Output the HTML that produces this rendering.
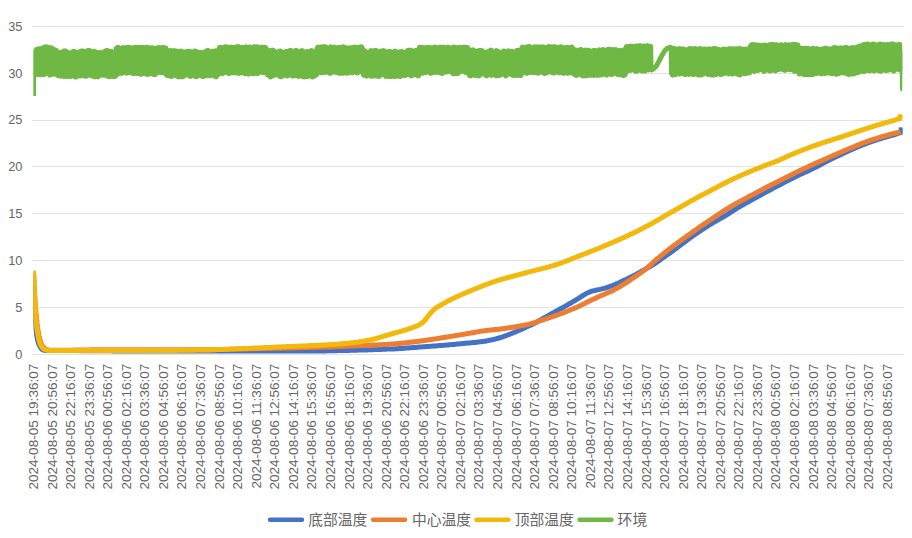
<!DOCTYPE html>
<html><head><meta charset="utf-8"><title>chart</title>
<style>
html,body{margin:0;padding:0;background:#fff;}
body{width:912px;height:538px;overflow:hidden;font-family:"Liberation Sans",sans-serif;}
svg{display:block}
text{font-family:"Liberation Sans",sans-serif;font-size:12px;fill:#666666;}
text.lg{font-family:"Liberation Sans","Noto Sans CJK SC",sans-serif;font-size:14.8px;fill:#666666;}
.s{fill:none;stroke-width:5;stroke-linecap:butt;stroke-linejoin:round}
</style></head><body>
<svg width="912" height="538" viewBox="0 0 912 538">
<rect width="912" height="538" fill="#fff"/>

<g stroke="#E2E2E2" stroke-width="1" shape-rendering="crispEdges">
<line x1="32.3" x2="903.8" y1="354.5" y2="354.5"/>
<line x1="32.3" x2="903.8" y1="307.5" y2="307.5"/>
<line x1="32.3" x2="903.8" y1="260.5" y2="260.5"/>
<line x1="32.3" x2="903.8" y1="213.5" y2="213.5"/>
<line x1="32.3" x2="903.8" y1="166.5" y2="166.5"/>
<line x1="32.3" x2="903.8" y1="120.5" y2="120.5"/>
<line x1="32.3" x2="903.8" y1="73.5" y2="73.5"/>
<line x1="32.3" x2="903.8" y1="26.5" y2="26.5"/>
</g>
<g text-anchor="end" opacity="0.999">
<text transform="translate(22.5 358.8) scale(1.07 1)">0</text>
<text transform="translate(22.5 311.9) scale(1.07 1)">5</text>
<text transform="translate(22.5 265.0) scale(1.07 1)">10</text>
<text transform="translate(22.5 218.1) scale(1.07 1)">15</text>
<text transform="translate(22.5 171.3) scale(1.07 1)">20</text>
<text transform="translate(22.5 124.4) scale(1.07 1)">25</text>
<text transform="translate(22.5 77.5) scale(1.07 1)">30</text>
<text transform="translate(22.5 30.6) scale(1.07 1)">35</text>
</g>
<clipPath id="pc"><rect x="33.3" y="20" width="869.4" height="340"/></clipPath><g clip-path="url(#pc)">
<path class="s" stroke="#4472C4" d="M33.6 286.0 L33.9 291.6 L34.1 296.9 L34.4 301.9 L34.6 306.5 L34.9 310.9 L35.1 315.4 L35.4 319.8 L35.6 323.9 L35.9 327.6 L36.1 330.8 L36.4 333.3 L36.6 335.0 L36.9 336.5 L37.1 337.8 L37.4 339.0 L37.6 340.1 L37.9 341.1 L38.1 342.0 L38.4 342.8 L38.6 343.5 L38.9 344.2 L39.1 344.8 L39.4 345.3 L39.6 345.8 L39.9 346.3 L40.1 346.7 L40.4 347.1 L40.6 347.6 L40.9 348.0 L41.1 348.3 L41.4 348.7 L41.6 349.0 L41.9 349.3 L42.1 349.5 L42.4 349.7 L42.6 349.8 L42.9 350.0 L43.1 350.0 L43.4 350.1 L43.6 350.1 L43.9 350.2 L44.1 350.2 L44.4 350.3 L44.6 350.3 L44.9 350.4 L45.1 350.4 L45.4 350.4 L45.6 350.5 L45.9 350.5 L46.1 350.5 L46.4 350.5 L46.6 350.6 L46.9 350.6 L47.1 350.6 L47.4 350.6 L47.6 350.6 L47.9 350.6 L48.0 350.6 L49.0 350.6 L50.0 350.6 L51.0 350.6 L52.0 350.6 L53.0 350.6 L54.0 350.6 L55.0 350.6 L56.0 350.6 L57.0 350.6 L58.0 350.6 L59.0 350.6 L60.0 350.6 L61.0 350.6 L62.0 350.6 L63.0 350.6 L64.0 350.6 L65.0 350.6 L66.0 350.6 L67.0 350.6 L68.0 350.6 L69.0 350.6 L70.0 350.6 L71.0 350.6 L72.0 350.6 L73.0 350.6 L74.0 350.6 L75.0 350.6 L76.0 350.6 L77.0 350.6 L78.0 350.6 L79.0 350.6 L80.0 350.7 L81.0 350.7 L82.0 350.7 L83.0 350.7 L84.0 350.7 L85.0 350.7 L86.0 350.7 L87.0 350.7 L88.0 350.7 L89.0 350.7 L90.0 350.7 L91.0 350.7 L92.0 350.7 L93.0 350.7 L94.0 350.7 L95.0 350.7 L96.0 350.7 L97.0 350.7 L98.0 350.8 L99.0 350.8 L100.0 350.8 L101.0 350.8 L102.0 350.8 L103.0 350.8 L104.0 350.8 L105.0 350.8 L106.0 350.8 L107.0 350.8 L108.0 350.8 L109.0 350.8 L110.0 350.8 L111.0 350.8 L112.0 350.8 L113.0 350.9 L114.0 350.9 L115.0 350.9 L116.0 350.9 L117.0 350.9 L118.0 350.9 L119.0 350.9 L120.0 350.9 L121.0 350.9 L122.0 350.9 L123.0 350.9 L124.0 350.9 L125.0 350.9 L126.0 350.9 L127.0 350.9 L128.0 350.9 L129.0 350.9 L130.0 350.9 L131.0 351.0 L132.0 351.0 L133.0 351.0 L134.0 351.0 L135.0 351.0 L136.0 351.0 L137.0 351.0 L138.0 351.0 L139.0 351.0 L140.0 351.0 L141.0 351.0 L142.0 351.0 L143.0 351.0 L144.0 351.0 L145.0 351.0 L146.0 351.0 L147.0 351.0 L148.0 351.0 L149.0 351.0 L150.0 351.0 L151.0 351.0 L152.0 351.0 L153.0 351.0 L154.0 351.0 L155.0 351.0 L156.0 351.0 L157.0 351.0 L158.0 351.0 L159.0 351.0 L160.0 351.0 L161.0 351.0 L162.0 351.0 L163.0 351.0 L164.0 351.0 L165.0 351.0 L166.0 351.0 L167.0 351.0 L168.0 351.0 L169.0 351.0 L170.0 351.0 L171.0 351.0 L172.0 351.0 L173.0 351.0 L174.0 351.0 L175.0 351.0 L176.0 351.0 L177.0 351.0 L178.0 351.0 L179.0 351.0 L180.0 351.0 L181.0 351.0 L182.0 351.0 L183.0 351.0 L184.0 351.0 L185.0 351.0 L186.0 351.0 L187.0 351.0 L188.0 351.0 L189.0 351.0 L190.0 351.0 L191.0 351.0 L192.0 351.0 L193.0 351.0 L194.0 351.0 L195.0 351.0 L196.0 351.0 L197.0 351.0 L198.0 351.0 L199.0 351.0 L200.0 351.0 L201.0 351.0 L202.0 351.0 L203.0 351.0 L204.0 351.0 L205.0 351.0 L206.0 351.0 L207.0 351.0 L208.0 351.0 L209.0 351.0 L210.0 351.0 L211.0 351.0 L212.0 351.0 L213.0 351.0 L214.0 351.0 L215.0 351.0 L216.0 351.0 L217.0 351.0 L218.0 351.0 L219.0 351.0 L220.0 351.0 L221.0 351.0 L222.0 351.0 L223.0 351.0 L224.0 351.0 L225.0 351.0 L226.0 351.0 L227.0 351.0 L228.0 351.0 L229.0 351.0 L230.0 351.0 L231.0 351.0 L232.0 351.0 L233.0 351.0 L234.0 351.0 L235.0 351.0 L236.0 351.0 L237.0 351.0 L238.0 351.0 L239.0 351.0 L240.0 351.0 L241.0 351.0 L242.0 351.0 L243.0 351.0 L244.0 351.0 L245.0 351.0 L246.0 351.0 L247.0 351.0 L248.0 351.0 L249.0 351.0 L250.0 351.0 L251.0 351.0 L252.0 351.0 L253.0 351.0 L254.0 351.0 L255.0 351.0 L256.0 351.0 L257.0 351.0 L258.0 351.0 L259.0 351.0 L260.0 351.0 L261.0 351.0 L262.0 351.0 L263.0 351.0 L264.0 351.0 L265.0 351.0 L266.0 351.0 L267.0 351.0 L268.0 351.0 L269.0 351.0 L270.0 351.0 L271.0 351.0 L272.0 351.0 L273.0 351.0 L274.0 351.0 L275.0 351.0 L276.0 351.0 L277.0 351.0 L278.0 351.0 L279.0 351.0 L280.0 351.0 L281.0 351.0 L282.0 351.0 L283.0 351.0 L284.0 351.0 L285.0 351.0 L286.0 351.0 L287.0 351.0 L288.0 351.0 L289.0 351.0 L290.0 351.0 L291.0 351.0 L292.0 351.0 L293.0 351.0 L294.0 351.0 L295.0 351.0 L296.0 351.0 L297.0 351.0 L298.0 351.0 L299.0 351.0 L300.0 351.0 L301.0 350.9 L302.0 350.9 L303.0 350.9 L304.0 350.9 L305.0 350.9 L306.0 350.9 L307.0 350.9 L308.0 350.9 L309.0 350.9 L310.0 350.9 L311.0 350.9 L312.0 350.9 L313.0 350.9 L314.0 350.9 L315.0 350.9 L316.0 350.9 L317.0 350.9 L318.0 350.9 L319.0 350.9 L320.0 350.9 L321.0 350.9 L322.0 350.9 L323.0 350.9 L324.0 350.9 L325.0 350.9 L326.0 350.9 L327.0 350.8 L328.0 350.8 L329.0 350.8 L330.0 350.8 L331.0 350.8 L332.0 350.8 L333.0 350.7 L334.0 350.7 L335.0 350.7 L336.0 350.7 L337.0 350.7 L338.0 350.6 L339.0 350.6 L340.0 350.6 L341.0 350.6 L342.0 350.5 L343.0 350.5 L344.0 350.5 L345.0 350.5 L346.0 350.4 L347.0 350.4 L348.0 350.4 L349.0 350.4 L350.0 350.3 L351.0 350.3 L352.0 350.3 L353.0 350.3 L354.0 350.2 L355.0 350.2 L356.0 350.2 L357.0 350.2 L358.0 350.1 L359.0 350.1 L360.0 350.1 L361.0 350.0 L362.0 350.0 L363.0 350.0 L364.0 350.0 L365.0 349.9 L366.0 349.9 L367.0 349.9 L368.0 349.8 L369.0 349.8 L370.0 349.8 L371.0 349.7 L372.0 349.7 L373.0 349.7 L374.0 349.6 L375.0 349.6 L376.0 349.5 L377.0 349.5 L378.0 349.5 L379.0 349.4 L380.0 349.4 L381.0 349.4 L382.0 349.3 L383.0 349.3 L384.0 349.2 L385.0 349.2 L386.0 349.2 L387.0 349.1 L388.0 349.1 L389.0 349.1 L390.0 349.0 L391.0 349.0 L392.0 348.9 L393.0 348.9 L394.0 348.9 L395.0 348.8 L396.0 348.8 L397.0 348.7 L398.0 348.7 L399.0 348.6 L400.0 348.6 L401.0 348.5 L402.0 348.4 L403.0 348.4 L404.0 348.3 L405.0 348.2 L406.0 348.1 L407.0 348.1 L408.0 348.0 L409.0 347.9 L410.0 347.8 L411.0 347.7 L412.0 347.7 L413.0 347.6 L414.0 347.5 L415.0 347.4 L416.0 347.4 L417.0 347.3 L418.0 347.2 L419.0 347.1 L420.0 347.1 L421.0 347.0 L422.0 346.9 L423.0 346.8 L424.0 346.8 L425.0 346.7 L426.0 346.6 L427.0 346.6 L428.0 346.5 L429.0 346.4 L430.0 346.3 L431.0 346.3 L432.0 346.2 L433.0 346.1 L434.0 346.0 L435.0 346.0 L436.0 345.9 L437.0 345.8 L438.0 345.7 L439.0 345.6 L440.0 345.6 L441.0 345.5 L442.0 345.4 L443.0 345.3 L444.0 345.2 L445.0 345.2 L446.0 345.1 L447.0 345.0 L448.0 344.9 L449.0 344.8 L450.0 344.7 L451.0 344.6 L452.0 344.6 L453.0 344.5 L454.0 344.4 L455.0 344.3 L456.0 344.2 L457.0 344.1 L458.0 344.0 L459.0 343.9 L460.0 343.8 L461.0 343.7 L462.0 343.6 L463.0 343.5 L464.0 343.4 L465.0 343.3 L466.0 343.2 L467.0 343.1 L468.0 343.1 L469.0 343.0 L470.0 342.9 L471.0 342.8 L472.0 342.7 L473.0 342.6 L474.0 342.5 L475.0 342.4 L476.0 342.3 L477.0 342.2 L478.0 342.1 L479.0 341.9 L480.0 341.8 L481.0 341.7 L482.0 341.6 L483.0 341.5 L484.0 341.3 L485.0 341.2 L486.0 341.0 L487.0 340.8 L488.0 340.6 L489.0 340.4 L490.0 340.2 L491.0 340.0 L492.0 339.8 L493.0 339.6 L494.0 339.3 L495.0 339.1 L496.0 338.8 L497.0 338.5 L498.0 338.3 L499.0 338.0 L500.0 337.7 L501.0 337.4 L502.0 337.1 L503.0 336.7 L504.0 336.4 L505.0 336.0 L506.0 335.7 L507.0 335.3 L508.0 334.9 L509.0 334.5 L510.0 334.2 L511.0 333.8 L512.0 333.3 L513.0 332.9 L514.0 332.5 L515.0 332.1 L516.0 331.7 L517.0 331.3 L518.0 330.8 L519.0 330.4 L520.0 330.0 L521.0 329.5 L522.0 329.1 L523.0 328.6 L524.0 328.2 L525.0 327.7 L526.0 327.2 L527.0 326.8 L528.0 326.3 L529.0 325.8 L530.0 325.4 L531.0 324.9 L532.0 324.4 L533.0 323.9 L534.0 323.4 L535.0 322.9 L536.0 322.4 L537.0 321.9 L538.0 321.3 L539.0 320.8 L540.0 320.2 L541.0 319.7 L542.0 319.1 L543.0 318.6 L544.0 318.0 L545.0 317.4 L546.0 316.9 L547.0 316.3 L548.0 315.7 L549.0 315.2 L550.0 314.6 L551.0 314.1 L552.0 313.5 L553.0 312.9 L554.0 312.4 L555.0 311.8 L556.0 311.3 L557.0 310.7 L558.0 310.2 L559.0 309.6 L560.0 309.1 L561.0 308.5 L562.0 308.0 L563.0 307.4 L564.0 306.9 L565.0 306.3 L566.0 305.8 L567.0 305.2 L568.0 304.6 L569.0 304.1 L570.0 303.5 L571.0 302.9 L572.0 302.3 L573.0 301.7 L574.0 301.1 L575.0 300.5 L576.0 299.9 L577.0 299.3 L578.0 298.7 L579.0 298.1 L580.0 297.4 L581.0 296.8 L582.0 296.1 L583.0 295.5 L584.0 294.9 L585.0 294.3 L586.0 293.7 L587.0 293.1 L588.0 292.7 L589.0 292.2 L590.0 291.8 L591.0 291.5 L592.0 291.2 L593.0 290.9 L594.0 290.7 L595.0 290.5 L596.0 290.2 L597.0 290.0 L598.0 289.8 L599.0 289.6 L600.0 289.4 L601.0 289.1 L602.0 288.9 L603.0 288.6 L604.0 288.4 L605.0 288.1 L606.0 287.8 L607.0 287.5 L608.0 287.2 L609.0 286.8 L610.0 286.4 L611.0 286.1 L612.0 285.7 L613.0 285.3 L614.0 284.9 L615.0 284.5 L616.0 284.1 L617.0 283.6 L618.0 283.2 L619.0 282.7 L620.0 282.3 L621.0 281.8 L622.0 281.3 L623.0 280.8 L624.0 280.3 L625.0 279.9 L626.0 279.4 L627.0 278.9 L628.0 278.4 L629.0 277.9 L630.0 277.4 L631.0 276.9 L632.0 276.4 L633.0 275.9 L634.0 275.4 L635.0 274.9 L636.0 274.4 L637.0 273.8 L638.0 273.3 L639.0 272.8 L640.0 272.2 L641.0 271.6 L642.0 271.1 L643.0 270.5 L644.0 270.0 L645.0 269.4 L646.0 268.8 L647.0 268.2 L648.0 267.7 L649.0 267.1 L650.0 266.5 L651.0 265.9 L652.0 265.3 L653.0 264.7 L654.0 264.1 L655.0 263.4 L656.0 262.8 L657.0 262.1 L658.0 261.4 L659.0 260.7 L660.0 260.0 L661.0 259.2 L662.0 258.5 L663.0 257.8 L664.0 257.1 L665.0 256.4 L666.0 255.7 L667.0 255.0 L668.0 254.3 L669.0 253.6 L670.0 252.9 L671.0 252.2 L672.0 251.5 L673.0 250.7 L674.0 250.0 L675.0 249.3 L676.0 248.5 L677.0 247.7 L678.0 247.0 L679.0 246.2 L680.0 245.5 L681.0 244.7 L682.0 244.0 L683.0 243.2 L684.0 242.5 L685.0 241.7 L686.0 241.0 L687.0 240.2 L688.0 239.5 L689.0 238.7 L690.0 238.0 L691.0 237.3 L692.0 236.6 L693.0 235.8 L694.0 235.1 L695.0 234.4 L696.0 233.7 L697.0 233.1 L698.0 232.4 L699.0 231.7 L700.0 231.0 L701.0 230.4 L702.0 229.7 L703.0 229.1 L704.0 228.4 L705.0 227.8 L706.0 227.1 L707.0 226.5 L708.0 225.9 L709.0 225.2 L710.0 224.6 L711.0 224.0 L712.0 223.4 L713.0 222.8 L714.0 222.2 L715.0 221.6 L716.0 221.0 L717.0 220.5 L718.0 219.9 L719.0 219.3 L720.0 218.8 L721.0 218.2 L722.0 217.6 L723.0 217.1 L724.0 216.5 L725.0 215.9 L726.0 215.3 L727.0 214.7 L728.0 214.1 L729.0 213.4 L730.0 212.8 L731.0 212.1 L732.0 211.5 L733.0 210.8 L734.0 210.2 L735.0 209.5 L736.0 208.9 L737.0 208.3 L738.0 207.7 L739.0 207.1 L740.0 206.5 L741.0 205.9 L742.0 205.3 L743.0 204.7 L744.0 204.2 L745.0 203.6 L746.0 203.1 L747.0 202.5 L748.0 202.0 L749.0 201.4 L750.0 200.9 L751.0 200.3 L752.0 199.8 L753.0 199.2 L754.0 198.7 L755.0 198.1 L756.0 197.6 L757.0 197.0 L758.0 196.5 L759.0 195.9 L760.0 195.4 L761.0 194.8 L762.0 194.3 L763.0 193.7 L764.0 193.2 L765.0 192.6 L766.0 192.1 L767.0 191.5 L768.0 191.0 L769.0 190.5 L770.0 189.9 L771.0 189.4 L772.0 188.9 L773.0 188.3 L774.0 187.8 L775.0 187.3 L776.0 186.8 L777.0 186.2 L778.0 185.7 L779.0 185.2 L780.0 184.7 L781.0 184.2 L782.0 183.7 L783.0 183.1 L784.0 182.6 L785.0 182.1 L786.0 181.6 L787.0 181.1 L788.0 180.6 L789.0 180.1 L790.0 179.6 L791.0 179.1 L792.0 178.6 L793.0 178.1 L794.0 177.6 L795.0 177.1 L796.0 176.6 L797.0 176.1 L798.0 175.6 L799.0 175.1 L800.0 174.6 L801.0 174.1 L802.0 173.7 L803.0 173.2 L804.0 172.7 L805.0 172.3 L806.0 171.8 L807.0 171.4 L808.0 170.9 L809.0 170.5 L810.0 170.0 L811.0 169.5 L812.0 169.1 L813.0 168.6 L814.0 168.1 L815.0 167.6 L816.0 167.1 L817.0 166.6 L818.0 166.0 L819.0 165.5 L820.0 165.0 L821.0 164.4 L822.0 163.9 L823.0 163.3 L824.0 162.8 L825.0 162.3 L826.0 161.8 L827.0 161.2 L828.0 160.7 L829.0 160.2 L830.0 159.7 L831.0 159.2 L832.0 158.7 L833.0 158.3 L834.0 157.8 L835.0 157.3 L836.0 156.8 L837.0 156.3 L838.0 155.9 L839.0 155.4 L840.0 154.9 L841.0 154.5 L842.0 154.0 L843.0 153.5 L844.0 153.1 L845.0 152.6 L846.0 152.1 L847.0 151.7 L848.0 151.2 L849.0 150.8 L850.0 150.3 L851.0 149.9 L852.0 149.4 L853.0 149.0 L854.0 148.5 L855.0 148.1 L856.0 147.7 L857.0 147.2 L858.0 146.8 L859.0 146.4 L860.0 146.0 L861.0 145.6 L862.0 145.2 L863.0 144.8 L864.0 144.4 L865.0 144.0 L866.0 143.6 L867.0 143.2 L868.0 142.9 L869.0 142.5 L870.0 142.1 L871.0 141.8 L872.0 141.4 L873.0 141.1 L874.0 140.8 L875.0 140.4 L876.0 140.1 L877.0 139.8 L878.0 139.4 L879.0 139.1 L880.0 138.8 L881.0 138.5 L882.0 138.2 L883.0 137.9 L884.0 137.6 L885.0 137.3 L886.0 137.0 L887.0 136.7 L888.0 136.5 L889.0 136.2 L890.0 135.9 L891.0 135.6 L892.0 135.3 L893.0 135.1 L894.0 134.8 L895.0 134.5 L896.0 134.1 L897.0 133.7 L898.0 133.3 L899.0 133.0 L900.0 132.8 L901.0 132.6 L901.3 127.3"/>
<path class="s" stroke="#ED7D31" d="M33.6 273.5 L33.9 278.6 L34.1 283.6 L34.4 288.3 L34.6 292.9 L34.9 297.1 L35.1 301.1 L35.4 304.6 L35.6 307.7 L35.9 310.7 L36.1 313.5 L36.4 316.3 L36.6 318.9 L36.9 321.4 L37.1 323.8 L37.4 326.0 L37.6 328.1 L37.9 329.9 L38.1 331.6 L38.4 333.1 L38.6 334.4 L38.9 335.5 L39.1 336.6 L39.4 337.7 L39.6 338.7 L39.9 339.6 L40.1 340.5 L40.4 341.3 L40.6 342.1 L40.9 342.8 L41.1 343.4 L41.4 344.0 L41.6 344.6 L41.9 345.0 L42.1 345.4 L42.4 345.8 L42.6 346.2 L42.9 346.5 L43.1 346.8 L43.4 347.2 L43.6 347.5 L43.9 347.7 L44.1 348.0 L44.4 348.3 L44.6 348.5 L44.9 348.7 L45.1 348.9 L45.4 349.1 L45.6 349.2 L45.9 349.4 L46.1 349.5 L46.4 349.6 L46.6 349.6 L46.9 349.7 L47.1 349.7 L47.4 349.8 L47.6 349.8 L47.9 349.9 L48.1 349.9 L48.4 350.0 L48.6 350.0 L48.9 350.1 L49.1 350.1 L49.4 350.1 L49.6 350.2 L49.9 350.2 L50.1 350.2 L50.4 350.2 L50.6 350.2 L50.9 350.3 L51.1 350.3 L51.4 350.3 L51.6 350.3 L51.9 350.3 L52.0 350.3 L53.0 350.3 L54.0 350.3 L55.0 350.3 L56.0 350.3 L57.0 350.3 L58.0 350.3 L59.0 350.3 L60.0 350.3 L61.0 350.3 L62.0 350.3 L63.0 350.3 L64.0 350.3 L65.0 350.3 L66.0 350.3 L67.0 350.2 L68.0 350.2 L69.0 350.2 L70.0 350.2 L71.0 350.2 L72.0 350.2 L73.0 350.2 L74.0 350.1 L75.0 350.1 L76.0 350.1 L77.0 350.1 L78.0 350.1 L79.0 350.0 L80.0 350.0 L81.0 350.0 L82.0 350.0 L83.0 350.0 L84.0 349.9 L85.0 349.9 L86.0 349.9 L87.0 349.9 L88.0 349.9 L89.0 349.9 L90.0 349.9 L91.0 349.8 L92.0 349.8 L93.0 349.8 L94.0 349.8 L95.0 349.8 L96.0 349.8 L97.0 349.8 L98.0 349.8 L99.0 349.8 L100.0 349.8 L101.0 349.8 L102.0 349.8 L103.0 349.8 L104.0 349.8 L105.0 349.8 L106.0 349.8 L107.0 349.8 L108.0 349.8 L109.0 349.8 L110.0 349.8 L111.0 349.8 L112.0 349.8 L113.0 349.8 L114.0 349.8 L115.0 349.8 L116.0 349.8 L117.0 349.8 L118.0 349.8 L119.0 349.8 L120.0 349.8 L121.0 349.8 L122.0 349.8 L123.0 349.8 L124.0 349.8 L125.0 349.8 L126.0 349.8 L127.0 349.8 L128.0 349.8 L129.0 349.8 L130.0 349.8 L131.0 349.8 L132.0 349.8 L133.0 349.8 L134.0 349.8 L135.0 349.8 L136.0 349.8 L137.0 349.8 L138.0 349.8 L139.0 349.8 L140.0 349.8 L141.0 349.8 L142.0 349.8 L143.0 349.8 L144.0 349.8 L145.0 349.8 L146.0 349.8 L147.0 349.8 L148.0 349.8 L149.0 349.8 L150.0 349.8 L151.0 349.8 L152.0 349.8 L153.0 349.8 L154.0 349.8 L155.0 349.8 L156.0 349.8 L157.0 349.8 L158.0 349.8 L159.0 349.8 L160.0 349.8 L161.0 349.8 L162.0 349.8 L163.0 349.8 L164.0 349.8 L165.0 349.8 L166.0 349.8 L167.0 349.8 L168.0 349.8 L169.0 349.8 L170.0 349.8 L171.0 349.8 L172.0 349.8 L173.0 349.8 L174.0 349.8 L175.0 349.8 L176.0 349.8 L177.0 349.8 L178.0 349.8 L179.0 349.8 L180.0 349.8 L181.0 349.8 L182.0 349.8 L183.0 349.8 L184.0 349.8 L185.0 349.8 L186.0 349.8 L187.0 349.8 L188.0 349.8 L189.0 349.8 L190.0 349.8 L191.0 349.8 L192.0 349.8 L193.0 349.8 L194.0 349.8 L195.0 349.8 L196.0 349.8 L197.0 349.8 L198.0 349.8 L199.0 349.8 L200.0 349.8 L201.0 349.8 L202.0 349.8 L203.0 349.8 L204.0 349.8 L205.0 349.8 L206.0 349.8 L207.0 349.8 L208.0 349.7 L209.0 349.7 L210.0 349.7 L211.0 349.7 L212.0 349.7 L213.0 349.7 L214.0 349.7 L215.0 349.6 L216.0 349.6 L217.0 349.6 L218.0 349.6 L219.0 349.6 L220.0 349.5 L221.0 349.5 L222.0 349.5 L223.0 349.5 L224.0 349.5 L225.0 349.4 L226.0 349.4 L227.0 349.4 L228.0 349.4 L229.0 349.3 L230.0 349.3 L231.0 349.3 L232.0 349.3 L233.0 349.2 L234.0 349.2 L235.0 349.2 L236.0 349.1 L237.0 349.1 L238.0 349.1 L239.0 349.1 L240.0 349.0 L241.0 349.0 L242.0 349.0 L243.0 349.0 L244.0 348.9 L245.0 348.9 L246.0 348.9 L247.0 348.9 L248.0 348.8 L249.0 348.8 L250.0 348.8 L251.0 348.8 L252.0 348.8 L253.0 348.7 L254.0 348.7 L255.0 348.7 L256.0 348.7 L257.0 348.7 L258.0 348.6 L259.0 348.6 L260.0 348.6 L261.0 348.6 L262.0 348.6 L263.0 348.5 L264.0 348.5 L265.0 348.5 L266.0 348.5 L267.0 348.5 L268.0 348.4 L269.0 348.4 L270.0 348.4 L271.0 348.4 L272.0 348.3 L273.0 348.3 L274.0 348.3 L275.0 348.3 L276.0 348.3 L277.0 348.2 L278.0 348.2 L279.0 348.2 L280.0 348.2 L281.0 348.2 L282.0 348.1 L283.0 348.1 L284.0 348.1 L285.0 348.1 L286.0 348.1 L287.0 348.0 L288.0 348.0 L289.0 348.0 L290.0 348.0 L291.0 347.9 L292.0 347.9 L293.0 347.9 L294.0 347.9 L295.0 347.9 L296.0 347.8 L297.0 347.8 L298.0 347.8 L299.0 347.8 L300.0 347.7 L301.0 347.7 L302.0 347.7 L303.0 347.7 L304.0 347.6 L305.0 347.6 L306.0 347.6 L307.0 347.6 L308.0 347.5 L309.0 347.5 L310.0 347.5 L311.0 347.5 L312.0 347.4 L313.0 347.4 L314.0 347.4 L315.0 347.3 L316.0 347.3 L317.0 347.3 L318.0 347.3 L319.0 347.2 L320.0 347.2 L321.0 347.2 L322.0 347.1 L323.0 347.1 L324.0 347.1 L325.0 347.0 L326.0 347.0 L327.0 347.0 L328.0 346.9 L329.0 346.9 L330.0 346.9 L331.0 346.8 L332.0 346.8 L333.0 346.7 L334.0 346.7 L335.0 346.7 L336.0 346.6 L337.0 346.6 L338.0 346.5 L339.0 346.5 L340.0 346.5 L341.0 346.4 L342.0 346.4 L343.0 346.3 L344.0 346.3 L345.0 346.2 L346.0 346.2 L347.0 346.2 L348.0 346.1 L349.0 346.1 L350.0 346.0 L351.0 346.0 L352.0 345.9 L353.0 345.9 L354.0 345.9 L355.0 345.8 L356.0 345.8 L357.0 345.7 L358.0 345.7 L359.0 345.6 L360.0 345.6 L361.0 345.6 L362.0 345.5 L363.0 345.5 L364.0 345.4 L365.0 345.4 L366.0 345.4 L367.0 345.3 L368.0 345.3 L369.0 345.2 L370.0 345.2 L371.0 345.2 L372.0 345.1 L373.0 345.1 L374.0 345.0 L375.0 345.0 L376.0 344.9 L377.0 344.9 L378.0 344.9 L379.0 344.8 L380.0 344.8 L381.0 344.7 L382.0 344.7 L383.0 344.6 L384.0 344.6 L385.0 344.5 L386.0 344.5 L387.0 344.4 L388.0 344.3 L389.0 344.3 L390.0 344.2 L391.0 344.1 L392.0 344.1 L393.0 344.0 L394.0 343.9 L395.0 343.8 L396.0 343.8 L397.0 343.7 L398.0 343.6 L399.0 343.5 L400.0 343.4 L401.0 343.3 L402.0 343.2 L403.0 343.1 L404.0 343.0 L405.0 342.9 L406.0 342.8 L407.0 342.7 L408.0 342.6 L409.0 342.4 L410.0 342.3 L411.0 342.2 L412.0 342.1 L413.0 342.0 L414.0 341.9 L415.0 341.7 L416.0 341.6 L417.0 341.5 L418.0 341.4 L419.0 341.2 L420.0 341.1 L421.0 341.0 L422.0 340.8 L423.0 340.7 L424.0 340.6 L425.0 340.4 L426.0 340.3 L427.0 340.1 L428.0 340.0 L429.0 339.8 L430.0 339.7 L431.0 339.5 L432.0 339.4 L433.0 339.2 L434.0 339.1 L435.0 338.9 L436.0 338.8 L437.0 338.6 L438.0 338.4 L439.0 338.3 L440.0 338.1 L441.0 338.0 L442.0 337.8 L443.0 337.7 L444.0 337.5 L445.0 337.3 L446.0 337.2 L447.0 337.0 L448.0 336.9 L449.0 336.7 L450.0 336.5 L451.0 336.4 L452.0 336.2 L453.0 336.1 L454.0 335.9 L455.0 335.7 L456.0 335.6 L457.0 335.4 L458.0 335.2 L459.0 335.1 L460.0 334.9 L461.0 334.7 L462.0 334.6 L463.0 334.4 L464.0 334.2 L465.0 334.1 L466.0 333.9 L467.0 333.7 L468.0 333.6 L469.0 333.4 L470.0 333.2 L471.0 333.0 L472.0 332.8 L473.0 332.7 L474.0 332.5 L475.0 332.3 L476.0 332.1 L477.0 331.9 L478.0 331.8 L479.0 331.6 L480.0 331.4 L481.0 331.2 L482.0 331.1 L483.0 330.9 L484.0 330.8 L485.0 330.7 L486.0 330.5 L487.0 330.4 L488.0 330.3 L489.0 330.2 L490.0 330.1 L491.0 330.0 L492.0 329.9 L493.0 329.8 L494.0 329.7 L495.0 329.6 L496.0 329.5 L497.0 329.4 L498.0 329.3 L499.0 329.2 L500.0 329.0 L501.0 328.9 L502.0 328.8 L503.0 328.7 L504.0 328.5 L505.0 328.4 L506.0 328.3 L507.0 328.1 L508.0 328.0 L509.0 327.8 L510.0 327.7 L511.0 327.5 L512.0 327.4 L513.0 327.2 L514.0 327.0 L515.0 326.9 L516.0 326.7 L517.0 326.5 L518.0 326.4 L519.0 326.2 L520.0 326.0 L521.0 325.8 L522.0 325.6 L523.0 325.4 L524.0 325.2 L525.0 325.0 L526.0 324.8 L527.0 324.6 L528.0 324.4 L529.0 324.1 L530.0 323.9 L531.0 323.6 L532.0 323.3 L533.0 323.1 L534.0 322.8 L535.0 322.5 L536.0 322.2 L537.0 321.8 L538.0 321.5 L539.0 321.2 L540.0 320.9 L541.0 320.5 L542.0 320.2 L543.0 319.9 L544.0 319.5 L545.0 319.2 L546.0 318.9 L547.0 318.5 L548.0 318.2 L549.0 317.9 L550.0 317.5 L551.0 317.2 L552.0 316.9 L553.0 316.5 L554.0 316.2 L555.0 315.8 L556.0 315.5 L557.0 315.1 L558.0 314.7 L559.0 314.4 L560.0 314.0 L561.0 313.6 L562.0 313.3 L563.0 312.9 L564.0 312.5 L565.0 312.1 L566.0 311.7 L567.0 311.3 L568.0 310.9 L569.0 310.5 L570.0 310.1 L571.0 309.7 L572.0 309.3 L573.0 308.9 L574.0 308.5 L575.0 308.1 L576.0 307.6 L577.0 307.2 L578.0 306.7 L579.0 306.2 L580.0 305.7 L581.0 305.2 L582.0 304.7 L583.0 304.2 L584.0 303.7 L585.0 303.3 L586.0 302.8 L587.0 302.3 L588.0 301.8 L589.0 301.3 L590.0 300.8 L591.0 300.3 L592.0 299.8 L593.0 299.3 L594.0 298.9 L595.0 298.4 L596.0 297.9 L597.0 297.4 L598.0 296.9 L599.0 296.5 L600.0 296.0 L601.0 295.6 L602.0 295.2 L603.0 294.8 L604.0 294.4 L605.0 294.0 L606.0 293.5 L607.0 293.1 L608.0 292.7 L609.0 292.3 L610.0 291.8 L611.0 291.4 L612.0 290.9 L613.0 290.4 L614.0 289.9 L615.0 289.3 L616.0 288.8 L617.0 288.3 L618.0 287.7 L619.0 287.1 L620.0 286.5 L621.0 285.9 L622.0 285.3 L623.0 284.7 L624.0 284.1 L625.0 283.5 L626.0 282.8 L627.0 282.2 L628.0 281.5 L629.0 280.9 L630.0 280.2 L631.0 279.5 L632.0 278.8 L633.0 278.1 L634.0 277.4 L635.0 276.7 L636.0 276.1 L637.0 275.4 L638.0 274.7 L639.0 274.0 L640.0 273.3 L641.0 272.6 L642.0 271.9 L643.0 271.1 L644.0 270.4 L645.0 269.6 L646.0 268.8 L647.0 268.0 L648.0 267.1 L649.0 266.2 L650.0 265.3 L651.0 264.4 L652.0 263.4 L653.0 262.5 L654.0 261.6 L655.0 260.7 L656.0 259.8 L657.0 259.0 L658.0 258.2 L659.0 257.4 L660.0 256.6 L661.0 255.7 L662.0 254.9 L663.0 254.1 L664.0 253.3 L665.0 252.5 L666.0 251.7 L667.0 250.9 L668.0 250.1 L669.0 249.3 L670.0 248.6 L671.0 247.8 L672.0 247.0 L673.0 246.3 L674.0 245.5 L675.0 244.7 L676.0 244.0 L677.0 243.3 L678.0 242.5 L679.0 241.8 L680.0 241.1 L681.0 240.3 L682.0 239.6 L683.0 238.9 L684.0 238.2 L685.0 237.5 L686.0 236.8 L687.0 236.1 L688.0 235.4 L689.0 234.7 L690.0 234.0 L691.0 233.3 L692.0 232.5 L693.0 231.8 L694.0 231.1 L695.0 230.4 L696.0 229.7 L697.0 229.0 L698.0 228.2 L699.0 227.5 L700.0 226.8 L701.0 226.1 L702.0 225.5 L703.0 224.8 L704.0 224.1 L705.0 223.5 L706.0 222.8 L707.0 222.2 L708.0 221.5 L709.0 220.8 L710.0 220.2 L711.0 219.5 L712.0 218.8 L713.0 218.1 L714.0 217.4 L715.0 216.8 L716.0 216.1 L717.0 215.4 L718.0 214.7 L719.0 214.0 L720.0 213.4 L721.0 212.7 L722.0 212.0 L723.0 211.3 L724.0 210.7 L725.0 210.0 L726.0 209.4 L727.0 208.8 L728.0 208.2 L729.0 207.6 L730.0 207.0 L731.0 206.4 L732.0 205.8 L733.0 205.3 L734.0 204.7 L735.0 204.2 L736.0 203.6 L737.0 203.1 L738.0 202.5 L739.0 202.0 L740.0 201.5 L741.0 200.9 L742.0 200.4 L743.0 199.8 L744.0 199.3 L745.0 198.7 L746.0 198.2 L747.0 197.7 L748.0 197.1 L749.0 196.6 L750.0 196.1 L751.0 195.5 L752.0 195.0 L753.0 194.5 L754.0 193.9 L755.0 193.4 L756.0 192.9 L757.0 192.3 L758.0 191.8 L759.0 191.3 L760.0 190.7 L761.0 190.2 L762.0 189.7 L763.0 189.2 L764.0 188.6 L765.0 188.1 L766.0 187.6 L767.0 187.1 L768.0 186.5 L769.0 186.0 L770.0 185.5 L771.0 185.0 L772.0 184.5 L773.0 184.0 L774.0 183.4 L775.0 182.9 L776.0 182.4 L777.0 181.9 L778.0 181.4 L779.0 180.9 L780.0 180.4 L781.0 179.9 L782.0 179.4 L783.0 178.9 L784.0 178.4 L785.0 177.9 L786.0 177.4 L787.0 176.9 L788.0 176.4 L789.0 175.9 L790.0 175.4 L791.0 174.9 L792.0 174.4 L793.0 173.9 L794.0 173.4 L795.0 172.9 L796.0 172.4 L797.0 172.0 L798.0 171.5 L799.0 171.0 L800.0 170.5 L801.0 170.0 L802.0 169.6 L803.0 169.1 L804.0 168.6 L805.0 168.1 L806.0 167.7 L807.0 167.2 L808.0 166.7 L809.0 166.3 L810.0 165.8 L811.0 165.4 L812.0 164.9 L813.0 164.4 L814.0 164.0 L815.0 163.5 L816.0 163.1 L817.0 162.6 L818.0 162.2 L819.0 161.8 L820.0 161.3 L821.0 160.9 L822.0 160.4 L823.0 160.0 L824.0 159.5 L825.0 159.1 L826.0 158.7 L827.0 158.2 L828.0 157.8 L829.0 157.3 L830.0 156.9 L831.0 156.5 L832.0 156.0 L833.0 155.6 L834.0 155.1 L835.0 154.7 L836.0 154.3 L837.0 153.8 L838.0 153.4 L839.0 153.0 L840.0 152.5 L841.0 152.1 L842.0 151.7 L843.0 151.3 L844.0 150.8 L845.0 150.4 L846.0 150.0 L847.0 149.6 L848.0 149.1 L849.0 148.7 L850.0 148.3 L851.0 147.9 L852.0 147.5 L853.0 147.1 L854.0 146.7 L855.0 146.3 L856.0 145.8 L857.0 145.4 L858.0 145.0 L859.0 144.6 L860.0 144.2 L861.0 143.8 L862.0 143.4 L863.0 143.0 L864.0 142.7 L865.0 142.3 L866.0 141.9 L867.0 141.5 L868.0 141.2 L869.0 140.8 L870.0 140.5 L871.0 140.2 L872.0 139.8 L873.0 139.5 L874.0 139.2 L875.0 138.9 L876.0 138.6 L877.0 138.2 L878.0 137.9 L879.0 137.6 L880.0 137.3 L881.0 137.0 L882.0 136.7 L883.0 136.5 L884.0 136.2 L885.0 135.9 L886.0 135.6 L887.0 135.3 L888.0 135.0 L889.0 134.8 L890.0 134.5 L891.0 134.2 L892.0 134.0 L893.0 133.7 L894.0 133.4 L895.0 133.2 L896.0 132.9 L897.0 132.7 L898.0 132.5 L899.0 132.2 L900.0 132.0 L900.5 131.8"/>
<path class="s" stroke="#F2B90C" d="M33.6 270.6 L33.9 278.3 L34.1 285.7 L34.4 292.6 L34.6 298.8 L34.9 304.0 L35.1 308.0 L35.4 311.5 L35.6 314.9 L35.9 317.9 L36.1 320.8 L36.4 323.4 L36.6 325.8 L36.9 328.0 L37.1 330.0 L37.4 331.7 L37.6 333.3 L37.9 334.7 L38.1 335.9 L38.4 337.1 L38.6 338.3 L38.9 339.3 L39.1 340.3 L39.4 341.3 L39.6 342.1 L39.9 342.9 L40.1 343.7 L40.4 344.3 L40.6 344.9 L40.9 345.3 L41.1 345.8 L41.4 346.1 L41.6 346.5 L41.9 346.9 L42.1 347.2 L42.4 347.5 L42.6 347.8 L42.9 348.1 L43.1 348.4 L43.4 348.6 L43.6 348.8 L43.9 349.0 L44.1 349.2 L44.4 349.3 L44.6 349.5 L44.9 349.6 L45.1 349.6 L45.4 349.7 L45.6 349.8 L45.9 349.8 L46.1 349.9 L46.4 349.9 L46.6 350.0 L46.9 350.1 L47.1 350.1 L47.4 350.2 L47.6 350.2 L47.9 350.2 L48.1 350.3 L48.4 350.3 L48.6 350.3 L48.9 350.4 L49.1 350.4 L49.4 350.4 L49.6 350.4 L49.9 350.4 L50.0 350.4 L51.0 350.4 L52.0 350.4 L53.0 350.4 L54.0 350.5 L55.0 350.5 L56.0 350.5 L57.0 350.5 L58.0 350.5 L59.0 350.5 L60.0 350.5 L61.0 350.5 L62.0 350.5 L63.0 350.5 L64.0 350.5 L65.0 350.5 L66.0 350.5 L67.0 350.5 L68.0 350.5 L69.0 350.5 L70.0 350.5 L71.0 350.5 L72.0 350.5 L73.0 350.5 L74.0 350.5 L75.0 350.5 L76.0 350.5 L77.0 350.5 L78.0 350.5 L79.0 350.5 L80.0 350.5 L81.0 350.5 L82.0 350.5 L83.0 350.5 L84.0 350.5 L85.0 350.5 L86.0 350.5 L87.0 350.5 L88.0 350.5 L89.0 350.5 L90.0 350.5 L91.0 350.5 L92.0 350.5 L93.0 350.5 L94.0 350.5 L95.0 350.5 L96.0 350.5 L97.0 350.5 L98.0 350.5 L99.0 350.5 L100.0 350.5 L101.0 350.5 L102.0 350.5 L103.0 350.5 L104.0 350.5 L105.0 350.5 L106.0 350.5 L107.0 350.5 L108.0 350.5 L109.0 350.5 L110.0 350.5 L111.0 350.5 L112.0 350.5 L113.0 350.5 L114.0 350.5 L115.0 350.5 L116.0 350.5 L117.0 350.5 L118.0 350.5 L119.0 350.5 L120.0 350.5 L121.0 350.5 L122.0 350.5 L123.0 350.5 L124.0 350.5 L125.0 350.5 L126.0 350.5 L127.0 350.5 L128.0 350.5 L129.0 350.5 L130.0 350.5 L131.0 350.5 L132.0 350.5 L133.0 350.5 L134.0 350.5 L135.0 350.5 L136.0 350.5 L137.0 350.5 L138.0 350.5 L139.0 350.5 L140.0 350.5 L141.0 350.5 L142.0 350.5 L143.0 350.5 L144.0 350.5 L145.0 350.5 L146.0 350.5 L147.0 350.5 L148.0 350.5 L149.0 350.5 L150.0 350.5 L151.0 350.5 L152.0 350.5 L153.0 350.5 L154.0 350.5 L155.0 350.5 L156.0 350.5 L157.0 350.5 L158.0 350.5 L159.0 350.5 L160.0 350.5 L161.0 350.5 L162.0 350.5 L163.0 350.5 L164.0 350.5 L165.0 350.5 L166.0 350.4 L167.0 350.4 L168.0 350.4 L169.0 350.4 L170.0 350.4 L171.0 350.4 L172.0 350.4 L173.0 350.4 L174.0 350.4 L175.0 350.4 L176.0 350.4 L177.0 350.4 L178.0 350.3 L179.0 350.3 L180.0 350.3 L181.0 350.3 L182.0 350.3 L183.0 350.3 L184.0 350.3 L185.0 350.3 L186.0 350.3 L187.0 350.2 L188.0 350.2 L189.0 350.2 L190.0 350.2 L191.0 350.2 L192.0 350.2 L193.0 350.2 L194.0 350.2 L195.0 350.2 L196.0 350.1 L197.0 350.1 L198.0 350.1 L199.0 350.1 L200.0 350.1 L201.0 350.1 L202.0 350.0 L203.0 350.0 L204.0 350.0 L205.0 350.0 L206.0 350.0 L207.0 349.9 L208.0 349.9 L209.0 349.9 L210.0 349.9 L211.0 349.8 L212.0 349.8 L213.0 349.8 L214.0 349.7 L215.0 349.7 L216.0 349.7 L217.0 349.6 L218.0 349.6 L219.0 349.6 L220.0 349.5 L221.0 349.5 L222.0 349.5 L223.0 349.4 L224.0 349.4 L225.0 349.3 L226.0 349.3 L227.0 349.3 L228.0 349.2 L229.0 349.2 L230.0 349.1 L231.0 349.1 L232.0 349.1 L233.0 349.0 L234.0 349.0 L235.0 348.9 L236.0 348.9 L237.0 348.8 L238.0 348.8 L239.0 348.8 L240.0 348.7 L241.0 348.7 L242.0 348.6 L243.0 348.6 L244.0 348.5 L245.0 348.5 L246.0 348.5 L247.0 348.4 L248.0 348.4 L249.0 348.3 L250.0 348.3 L251.0 348.3 L252.0 348.2 L253.0 348.2 L254.0 348.1 L255.0 348.1 L256.0 348.0 L257.0 348.0 L258.0 348.0 L259.0 347.9 L260.0 347.9 L261.0 347.8 L262.0 347.8 L263.0 347.7 L264.0 347.7 L265.0 347.6 L266.0 347.6 L267.0 347.5 L268.0 347.5 L269.0 347.4 L270.0 347.4 L271.0 347.4 L272.0 347.3 L273.0 347.3 L274.0 347.2 L275.0 347.2 L276.0 347.1 L277.0 347.1 L278.0 347.0 L279.0 347.0 L280.0 346.9 L281.0 346.9 L282.0 346.8 L283.0 346.8 L284.0 346.7 L285.0 346.7 L286.0 346.7 L287.0 346.6 L288.0 346.6 L289.0 346.5 L290.0 346.5 L291.0 346.5 L292.0 346.4 L293.0 346.4 L294.0 346.3 L295.0 346.3 L296.0 346.3 L297.0 346.2 L298.0 346.2 L299.0 346.1 L300.0 346.1 L301.0 346.1 L302.0 346.0 L303.0 346.0 L304.0 345.9 L305.0 345.9 L306.0 345.9 L307.0 345.8 L308.0 345.8 L309.0 345.7 L310.0 345.7 L311.0 345.6 L312.0 345.6 L313.0 345.6 L314.0 345.5 L315.0 345.5 L316.0 345.4 L317.0 345.4 L318.0 345.3 L319.0 345.3 L320.0 345.2 L321.0 345.2 L322.0 345.1 L323.0 345.0 L324.0 345.0 L325.0 344.9 L326.0 344.9 L327.0 344.8 L328.0 344.7 L329.0 344.7 L330.0 344.6 L331.0 344.6 L332.0 344.5 L333.0 344.4 L334.0 344.4 L335.0 344.3 L336.0 344.2 L337.0 344.2 L338.0 344.1 L339.0 344.0 L340.0 343.9 L341.0 343.9 L342.0 343.8 L343.0 343.7 L344.0 343.6 L345.0 343.5 L346.0 343.4 L347.0 343.3 L348.0 343.2 L349.0 343.1 L350.0 343.1 L351.0 342.9 L352.0 342.8 L353.0 342.7 L354.0 342.6 L355.0 342.5 L356.0 342.4 L357.0 342.3 L358.0 342.1 L359.0 342.0 L360.0 341.8 L361.0 341.7 L362.0 341.5 L363.0 341.3 L364.0 341.1 L365.0 340.9 L366.0 340.7 L367.0 340.5 L368.0 340.3 L369.0 340.1 L370.0 339.9 L371.0 339.7 L372.0 339.5 L373.0 339.2 L374.0 339.0 L375.0 338.7 L376.0 338.5 L377.0 338.2 L378.0 337.9 L379.0 337.6 L380.0 337.3 L381.0 337.0 L382.0 336.7 L383.0 336.4 L384.0 336.1 L385.0 335.8 L386.0 335.5 L387.0 335.2 L388.0 334.9 L389.0 334.6 L390.0 334.3 L391.0 334.1 L392.0 333.8 L393.0 333.5 L394.0 333.2 L395.0 333.0 L396.0 332.7 L397.0 332.4 L398.0 332.1 L399.0 331.9 L400.0 331.6 L401.0 331.3 L402.0 331.0 L403.0 330.7 L404.0 330.4 L405.0 330.1 L406.0 329.8 L407.0 329.5 L408.0 329.1 L409.0 328.8 L410.0 328.5 L411.0 328.1 L412.0 327.8 L413.0 327.4 L414.0 327.1 L415.0 326.7 L416.0 326.3 L417.0 325.9 L418.0 325.5 L419.0 325.0 L420.0 324.5 L421.0 323.8 L422.0 323.1 L423.0 322.2 L424.0 321.3 L425.0 320.1 L426.0 318.9 L427.0 317.6 L428.0 316.3 L429.0 315.0 L430.0 313.8 L431.0 312.6 L432.0 311.5 L433.0 310.5 L434.0 309.6 L435.0 308.8 L436.0 308.0 L437.0 307.3 L438.0 306.7 L439.0 306.1 L440.0 305.5 L441.0 305.0 L442.0 304.4 L443.0 303.8 L444.0 303.3 L445.0 302.7 L446.0 302.2 L447.0 301.6 L448.0 301.1 L449.0 300.6 L450.0 300.0 L451.0 299.5 L452.0 299.0 L453.0 298.5 L454.0 298.0 L455.0 297.6 L456.0 297.1 L457.0 296.6 L458.0 296.2 L459.0 295.7 L460.0 295.3 L461.0 294.9 L462.0 294.4 L463.0 294.0 L464.0 293.5 L465.0 293.1 L466.0 292.7 L467.0 292.2 L468.0 291.8 L469.0 291.4 L470.0 290.9 L471.0 290.5 L472.0 290.1 L473.0 289.7 L474.0 289.3 L475.0 288.9 L476.0 288.5 L477.0 288.1 L478.0 287.7 L479.0 287.3 L480.0 286.9 L481.0 286.5 L482.0 286.1 L483.0 285.7 L484.0 285.4 L485.0 285.0 L486.0 284.6 L487.0 284.2 L488.0 283.9 L489.0 283.5 L490.0 283.1 L491.0 282.8 L492.0 282.4 L493.0 282.1 L494.0 281.7 L495.0 281.4 L496.0 281.0 L497.0 280.7 L498.0 280.4 L499.0 280.1 L500.0 279.8 L501.0 279.5 L502.0 279.2 L503.0 278.9 L504.0 278.6 L505.0 278.3 L506.0 278.1 L507.0 277.8 L508.0 277.5 L509.0 277.3 L510.0 277.0 L511.0 276.7 L512.0 276.5 L513.0 276.2 L514.0 276.0 L515.0 275.7 L516.0 275.4 L517.0 275.2 L518.0 274.9 L519.0 274.6 L520.0 274.3 L521.0 274.1 L522.0 273.8 L523.0 273.5 L524.0 273.3 L525.0 273.0 L526.0 272.7 L527.0 272.5 L528.0 272.2 L529.0 271.9 L530.0 271.7 L531.0 271.4 L532.0 271.2 L533.0 270.9 L534.0 270.6 L535.0 270.4 L536.0 270.1 L537.0 269.9 L538.0 269.6 L539.0 269.4 L540.0 269.1 L541.0 268.9 L542.0 268.6 L543.0 268.4 L544.0 268.1 L545.0 267.9 L546.0 267.6 L547.0 267.3 L548.0 267.1 L549.0 266.8 L550.0 266.5 L551.0 266.2 L552.0 265.9 L553.0 265.6 L554.0 265.3 L555.0 265.0 L556.0 264.7 L557.0 264.4 L558.0 264.1 L559.0 263.7 L560.0 263.4 L561.0 263.0 L562.0 262.7 L563.0 262.3 L564.0 261.9 L565.0 261.5 L566.0 261.1 L567.0 260.8 L568.0 260.4 L569.0 260.0 L570.0 259.6 L571.0 259.2 L572.0 258.8 L573.0 258.4 L574.0 258.0 L575.0 257.6 L576.0 257.2 L577.0 256.8 L578.0 256.4 L579.0 256.0 L580.0 255.7 L581.0 255.3 L582.0 254.9 L583.0 254.5 L584.0 254.1 L585.0 253.7 L586.0 253.3 L587.0 253.0 L588.0 252.6 L589.0 252.2 L590.0 251.8 L591.0 251.4 L592.0 251.0 L593.0 250.6 L594.0 250.2 L595.0 249.8 L596.0 249.4 L597.0 249.0 L598.0 248.6 L599.0 248.2 L600.0 247.7 L601.0 247.3 L602.0 246.9 L603.0 246.5 L604.0 246.1 L605.0 245.6 L606.0 245.2 L607.0 244.8 L608.0 244.4 L609.0 243.9 L610.0 243.5 L611.0 243.1 L612.0 242.7 L613.0 242.2 L614.0 241.8 L615.0 241.4 L616.0 240.9 L617.0 240.5 L618.0 240.1 L619.0 239.6 L620.0 239.2 L621.0 238.7 L622.0 238.3 L623.0 237.9 L624.0 237.4 L625.0 236.9 L626.0 236.5 L627.0 236.0 L628.0 235.5 L629.0 235.1 L630.0 234.6 L631.0 234.1 L632.0 233.6 L633.0 233.2 L634.0 232.7 L635.0 232.2 L636.0 231.7 L637.0 231.2 L638.0 230.7 L639.0 230.2 L640.0 229.7 L641.0 229.2 L642.0 228.7 L643.0 228.2 L644.0 227.6 L645.0 227.1 L646.0 226.6 L647.0 226.1 L648.0 225.5 L649.0 225.0 L650.0 224.5 L651.0 223.9 L652.0 223.4 L653.0 222.8 L654.0 222.2 L655.0 221.7 L656.0 221.1 L657.0 220.5 L658.0 219.9 L659.0 219.4 L660.0 218.8 L661.0 218.2 L662.0 217.6 L663.0 217.0 L664.0 216.4 L665.0 215.8 L666.0 215.3 L667.0 214.7 L668.0 214.1 L669.0 213.5 L670.0 213.0 L671.0 212.4 L672.0 211.8 L673.0 211.2 L674.0 210.7 L675.0 210.1 L676.0 209.5 L677.0 209.0 L678.0 208.4 L679.0 207.8 L680.0 207.3 L681.0 206.7 L682.0 206.1 L683.0 205.6 L684.0 205.0 L685.0 204.4 L686.0 203.9 L687.0 203.3 L688.0 202.8 L689.0 202.2 L690.0 201.6 L691.0 201.1 L692.0 200.5 L693.0 199.9 L694.0 199.4 L695.0 198.8 L696.0 198.3 L697.0 197.7 L698.0 197.2 L699.0 196.6 L700.0 196.1 L701.0 195.6 L702.0 195.0 L703.0 194.5 L704.0 194.0 L705.0 193.5 L706.0 192.9 L707.0 192.4 L708.0 191.9 L709.0 191.4 L710.0 190.9 L711.0 190.4 L712.0 189.8 L713.0 189.3 L714.0 188.8 L715.0 188.3 L716.0 187.7 L717.0 187.2 L718.0 186.6 L719.0 186.1 L720.0 185.6 L721.0 185.0 L722.0 184.5 L723.0 184.0 L724.0 183.5 L725.0 182.9 L726.0 182.4 L727.0 181.9 L728.0 181.4 L729.0 181.0 L730.0 180.5 L731.0 180.0 L732.0 179.5 L733.0 179.1 L734.0 178.6 L735.0 178.1 L736.0 177.7 L737.0 177.2 L738.0 176.8 L739.0 176.3 L740.0 175.9 L741.0 175.4 L742.0 175.0 L743.0 174.5 L744.0 174.1 L745.0 173.7 L746.0 173.2 L747.0 172.8 L748.0 172.4 L749.0 172.0 L750.0 171.5 L751.0 171.1 L752.0 170.7 L753.0 170.3 L754.0 169.9 L755.0 169.5 L756.0 169.1 L757.0 168.7 L758.0 168.3 L759.0 167.9 L760.0 167.5 L761.0 167.1 L762.0 166.7 L763.0 166.3 L764.0 165.9 L765.0 165.5 L766.0 165.1 L767.0 164.8 L768.0 164.4 L769.0 164.0 L770.0 163.7 L771.0 163.3 L772.0 162.9 L773.0 162.6 L774.0 162.2 L775.0 161.8 L776.0 161.4 L777.0 161.0 L778.0 160.6 L779.0 160.2 L780.0 159.7 L781.0 159.3 L782.0 158.8 L783.0 158.4 L784.0 157.9 L785.0 157.4 L786.0 157.0 L787.0 156.5 L788.0 156.1 L789.0 155.6 L790.0 155.2 L791.0 154.8 L792.0 154.4 L793.0 153.9 L794.0 153.5 L795.0 153.1 L796.0 152.7 L797.0 152.3 L798.0 151.9 L799.0 151.5 L800.0 151.1 L801.0 150.7 L802.0 150.3 L803.0 149.9 L804.0 149.5 L805.0 149.1 L806.0 148.7 L807.0 148.4 L808.0 148.0 L809.0 147.6 L810.0 147.3 L811.0 146.9 L812.0 146.5 L813.0 146.2 L814.0 145.8 L815.0 145.5 L816.0 145.1 L817.0 144.8 L818.0 144.4 L819.0 144.1 L820.0 143.8 L821.0 143.4 L822.0 143.1 L823.0 142.7 L824.0 142.4 L825.0 142.1 L826.0 141.8 L827.0 141.4 L828.0 141.1 L829.0 140.8 L830.0 140.5 L831.0 140.2 L832.0 139.8 L833.0 139.5 L834.0 139.2 L835.0 138.9 L836.0 138.6 L837.0 138.3 L838.0 138.0 L839.0 137.6 L840.0 137.3 L841.0 137.0 L842.0 136.7 L843.0 136.4 L844.0 136.0 L845.0 135.7 L846.0 135.3 L847.0 135.0 L848.0 134.7 L849.0 134.3 L850.0 134.0 L851.0 133.6 L852.0 133.3 L853.0 133.0 L854.0 132.6 L855.0 132.3 L856.0 131.9 L857.0 131.6 L858.0 131.3 L859.0 131.0 L860.0 130.6 L861.0 130.3 L862.0 130.0 L863.0 129.7 L864.0 129.4 L865.0 129.0 L866.0 128.7 L867.0 128.4 L868.0 128.1 L869.0 127.8 L870.0 127.4 L871.0 127.1 L872.0 126.8 L873.0 126.5 L874.0 126.2 L875.0 125.9 L876.0 125.5 L877.0 125.2 L878.0 124.9 L879.0 124.6 L880.0 124.3 L881.0 124.0 L882.0 123.8 L883.0 123.5 L884.0 123.2 L885.0 122.9 L886.0 122.6 L887.0 122.3 L888.0 122.1 L889.0 121.8 L890.0 121.5 L891.0 121.2 L892.0 120.9 L893.0 120.7 L894.0 120.4 L895.0 120.0 L896.0 119.7 L897.0 119.3 L898.0 119.0 L899.0 118.7 L900.0 118.6 L900.5 114.4"/>
<path class="s" stroke="#70B844" d="M33.6 96.0 L33.7 60.0 L33.9 54.1 L34.2 75.1 L34.5 52.9 L34.8 75.1 L35.1 51.8 L35.4 75.1 L35.7 50.8 L36.0 74.4 L36.3 49.8 L36.6 73.7 L36.9 49.3 L37.2 73.3 L37.5 49.2 L37.8 73.6 L38.1 49.2 L38.4 73.9 L38.7 49.1 L39.0 74.3 L39.3 48.9 L39.6 74.6 L39.9 48.7 L40.2 75.0 L40.5 48.8 L40.8 74.6 L41.1 48.9 L41.4 74.3 L41.7 48.9 L42.0 74.1 L42.3 48.4 L42.6 74.4 L42.9 48.0 L43.2 74.7 L43.5 47.7 L43.8 74.7 L44.1 47.3 L44.4 74.5 L44.7 46.9 L45.0 74.3 L45.3 46.9 L45.6 73.6 L45.9 46.9 L46.2 72.9 L46.5 46.9 L46.8 72.5 L47.1 46.9 L47.4 72.9 L47.7 47.0 L48.0 73.2 L48.3 47.2 L48.6 73.8 L48.9 47.7 L49.2 74.4 L49.5 48.3 L49.8 75.2 L50.1 48.1 L50.4 74.8 L50.7 47.8 L51.0 74.4 L51.3 47.7 L51.6 74.1 L51.9 48.0 L52.2 74.2 L52.5 48.2 L52.8 74.2 L53.1 48.8 L53.4 74.2 L53.7 49.5 L54.0 74.2 L54.3 50.2 L54.6 74.1 L54.9 50.3 L55.2 74.0 L55.5 50.1 L55.8 73.9 L56.1 50.2 L56.4 74.1 L56.7 51.1 L57.0 74.8 L57.3 52.0 L57.6 75.4 L57.9 52.4 L58.2 75.5 L58.5 52.6 L58.8 75.2 L59.1 52.7 L59.4 75.0 L59.7 52.7 L60.0 75.6 L60.3 52.6 L60.6 76.2 L60.9 52.5 L61.2 76.3 L61.5 52.7 L61.8 75.4 L62.1 52.9 L62.4 74.5 L62.7 52.5 L63.0 74.9 L63.3 51.8 L63.6 75.8 L63.9 51.1 L64.2 76.8 L64.5 51.1 L64.8 76.0 L65.1 51.0 L65.4 75.1 L65.7 51.1 L66.0 74.8 L66.3 51.7 L66.6 75.7 L66.9 52.2 L67.2 76.6 L67.5 52.4 L67.8 76.6 L68.1 52.4 L68.4 76.2 L68.7 52.4 L69.0 75.8 L69.3 52.7 L69.6 76.2 L69.9 52.9 L70.2 76.6 L70.5 53.1 L70.8 76.7 L71.1 53.1 L71.4 76.3 L71.7 53.1 L72.0 76.0 L72.3 52.7 L72.6 75.7 L72.9 52.0 L73.2 75.3 L73.5 51.2 L73.8 75.0 L74.1 51.4 L74.4 75.9 L74.7 51.5 L75.0 76.8 L75.3 51.8 L75.6 77.3 L75.9 52.4 L76.2 76.9 L76.5 53.0 L76.8 76.6 L77.1 52.9 L77.4 76.1 L77.7 52.4 L78.0 75.6 L78.3 51.9 L78.6 75.2 L78.9 52.0 L79.2 75.6 L79.5 52.1 L79.8 76.0 L80.1 52.0 L80.4 76.1 L80.7 51.5 L81.0 75.7 L81.3 51.0 L81.6 75.3 L81.9 50.9 L82.2 75.3 L82.5 51.0 L82.8 75.5 L83.1 51.2 L83.4 75.7 L83.7 51.3 L84.0 75.9 L84.3 51.4 L84.6 76.1 L84.9 51.5 L85.2 76.3 L85.5 51.6 L85.8 76.3 L86.1 51.7 L86.4 76.3 L86.7 51.4 L87.0 75.9 L87.3 50.9 L87.6 75.4 L87.9 50.5 L88.2 74.8 L88.5 50.4 L88.8 74.9 L89.1 50.4 L89.4 75.0 L89.7 50.6 L90.0 75.1 L90.3 51.3 L90.6 75.4 L90.9 52.1 L91.2 75.7 L91.5 52.4 L91.8 75.9 L92.1 52.5 L92.4 75.9 L92.7 52.6 L93.0 76.0 L93.3 52.0 L93.6 76.4 L93.9 51.3 L94.2 76.8 L94.5 51.2 L94.8 76.9 L95.1 52.0 L95.4 76.6 L95.7 52.8 L96.0 76.3 L96.3 52.9 L96.6 76.3 L96.9 52.5 L97.2 76.6 L97.5 52.2 L97.8 76.9 L98.1 52.5 L98.4 76.4 L98.7 52.8 L99.0 75.9 L99.3 53.0 L99.6 75.5 L99.9 52.7 L100.2 75.3 L100.5 52.4 L100.8 75.0 L101.1 52.5 L101.4 75.0 L101.7 52.8 L102.0 75.1 L102.3 53.0 L102.6 75.2 L102.9 52.8 L103.2 75.0 L103.5 52.5 L103.8 74.7 L104.1 52.2 L104.4 74.6 L104.7 51.6 L105.0 75.0 L105.3 51.1 L105.6 75.4 L105.9 50.8 L106.2 75.7 L106.5 50.7 L106.8 76.0 L107.1 50.5 L107.4 76.3 L107.7 50.6 L108.0 76.5 L108.3 50.8 L108.6 76.8 L108.9 50.9 L109.2 76.7 L109.5 51.2 L109.8 76.0 L110.1 51.5 L110.4 75.3 L110.7 51.5 L111.0 75.4 L111.3 51.4 L111.6 76.0 L111.9 51.4 L112.2 76.5 L112.5 51.7 L112.8 76.5 L113.1 51.9 L113.4 76.6 L113.7 52.2 L114.0 76.6 L114.3 52.4 L114.6 76.5 L114.9 52.6 L115.2 76.4 L115.5 51.5 L115.8 76.0 L116.1 49.1 L116.4 75.0 L116.7 48.0 L117.0 74.6 L117.3 47.8 L117.6 74.2 L117.9 47.6 L118.2 73.8 L118.5 47.6 L118.8 73.4 L119.1 48.1 L119.4 73.3 L119.7 48.5 L120.0 73.1 L120.3 48.7 L120.6 73.2 L120.9 48.7 L121.2 73.3 L121.5 48.8 L121.8 73.4 L122.1 48.3 L122.4 72.8 L122.7 47.8 L123.0 72.2 L123.3 47.5 L123.6 71.8 L123.9 47.8 L124.2 71.8 L124.5 48.2 L124.8 71.8 L125.1 48.1 L125.4 72.1 L125.7 47.8 L126.0 72.7 L126.3 47.5 L126.6 73.2 L126.9 47.5 L127.2 73.1 L127.5 47.5 L127.8 73.0 L128.1 47.4 L128.4 72.8 L128.7 47.3 L129.0 72.5 L129.3 47.2 L129.6 72.2 L129.9 47.4 L130.2 72.3 L130.5 47.7 L130.8 72.6 L131.1 48.1 L131.4 72.8 L131.7 48.1 L132.0 73.1 L132.3 48.1 L132.6 73.5 L132.9 48.1 L133.2 73.6 L133.5 47.8 L133.8 73.5 L134.1 47.4 L134.4 73.4 L134.7 47.4 L135.0 73.2 L135.3 47.4 L135.6 73.1 L135.9 47.4 L136.2 72.9 L136.5 47.5 L136.8 73.4 L137.1 47.6 L137.4 73.8 L137.7 47.6 L138.0 73.8 L138.3 47.5 L138.6 73.0 L138.9 47.4 L139.2 72.2 L139.5 47.4 L139.8 72.5 L140.1 47.5 L140.4 73.5 L140.7 47.6 L141.0 74.4 L141.3 47.4 L141.6 74.2 L141.9 47.2 L142.2 73.9 L142.5 47.2 L142.8 73.7 L143.1 47.6 L143.4 73.4 L143.7 48.1 L144.0 73.1 L144.3 48.0 L144.6 73.2 L144.9 47.7 L145.2 73.5 L145.5 47.5 L145.8 73.8 L146.1 47.3 L146.4 74.1 L146.7 47.2 L147.0 74.4 L147.3 47.2 L147.6 74.5 L147.9 47.6 L148.2 74.1 L148.5 48.1 L148.8 73.8 L149.1 48.1 L149.4 73.7 L149.7 47.9 L150.0 73.7 L150.3 47.7 L150.6 73.8 L150.9 47.9 L151.2 73.8 L151.5 48.0 L151.8 73.8 L152.1 48.1 L152.4 73.9 L152.7 48.1 L153.0 74.2 L153.3 48.0 L153.6 74.4 L153.9 48.1 L154.2 74.5 L154.5 48.4 L154.8 74.4 L155.1 48.7 L155.4 74.4 L155.7 48.7 L156.0 73.7 L156.3 48.7 L156.6 73.0 L156.9 48.6 L157.2 72.5 L157.5 48.1 L157.8 72.2 L158.1 47.6 L158.4 71.9 L158.7 47.6 L159.0 72.0 L159.3 47.8 L159.6 72.3 L159.9 48.0 L160.2 72.6 L160.5 47.9 L160.8 72.7 L161.1 47.8 L161.4 72.8 L161.7 47.7 L162.0 72.8 L162.3 47.6 L162.6 72.7 L162.9 47.5 L163.2 72.5 L163.5 47.6 L163.8 72.6 L164.1 47.8 L164.4 72.9 L164.7 48.0 L165.0 73.1 L165.3 48.1 L165.6 73.7 L165.9 48.1 L166.2 74.2 L166.5 49.8 L166.8 75.4 L167.1 52.1 L167.4 75.8 L167.7 52.6 L168.0 75.2 L168.3 52.2 L168.6 75.1 L168.9 51.5 L169.2 75.3 L169.5 50.8 L169.8 75.5 L170.1 50.8 L170.4 76.0 L170.7 50.7 L171.0 76.5 L171.3 50.7 L171.6 76.6 L171.9 50.8 L172.2 75.8 L172.5 51.0 L172.8 75.0 L173.1 50.9 L173.4 74.9 L173.7 50.7 L174.0 75.2 L174.3 50.6 L174.6 75.4 L174.9 50.8 L175.2 75.6 L175.5 51.1 L175.8 75.9 L176.1 51.2 L176.4 76.1 L176.7 51.2 L177.0 76.3 L177.3 51.1 L177.6 76.6 L177.9 51.5 L178.2 76.7 L178.5 52.1 L178.8 76.8 L179.1 52.6 L179.4 76.9 L179.7 52.0 L180.0 76.3 L180.3 51.3 L180.6 75.6 L180.9 51.1 L181.2 75.4 L181.5 51.5 L181.8 76.2 L182.1 52.0 L182.4 76.9 L182.7 52.1 L183.0 76.8 L183.3 52.0 L183.6 76.2 L183.9 51.9 L184.2 75.7 L184.5 52.0 L184.8 75.3 L185.1 52.2 L185.4 75.0 L185.7 52.1 L186.0 74.8 L186.3 51.9 L186.6 74.8 L186.9 51.6 L187.2 74.8 L187.5 51.4 L187.8 75.0 L188.1 51.3 L188.4 75.3 L188.7 51.2 L189.0 75.7 L189.3 51.3 L189.6 76.1 L189.9 51.4 L190.2 76.5 L190.5 51.6 L190.8 76.5 L191.1 51.9 L191.4 75.7 L191.7 52.1 L192.0 74.8 L192.3 52.3 L192.6 74.7 L192.9 52.4 L193.2 74.8 L193.5 52.5 L193.8 75.0 L194.1 51.8 L194.4 75.7 L194.7 51.1 L195.0 76.3 L195.3 50.9 L195.6 76.8 L195.9 51.5 L196.2 76.8 L196.5 52.1 L196.8 76.8 L197.1 52.2 L197.4 76.4 L197.7 52.0 L198.0 75.7 L198.3 51.9 L198.6 75.0 L198.9 52.3 L199.2 74.8 L199.5 52.7 L199.8 74.6 L200.1 52.8 L200.4 74.7 L200.7 52.6 L201.0 75.4 L201.3 52.4 L201.6 76.1 L201.9 52.5 L202.2 76.4 L202.5 52.7 L202.8 76.6 L203.1 52.9 L203.4 76.7 L203.7 52.7 L204.0 75.9 L204.3 52.4 L204.6 75.1 L204.9 52.0 L205.2 74.7 L205.5 51.6 L205.8 75.2 L206.1 51.2 L206.4 75.7 L206.7 50.9 L207.0 75.6 L207.3 50.6 L207.6 75.2 L207.9 50.3 L208.2 74.8 L208.5 50.7 L208.8 75.3 L209.1 51.1 L209.4 75.8 L209.7 51.5 L210.0 76.0 L210.3 51.9 L210.6 75.4 L210.9 52.3 L211.2 74.9 L211.5 52.1 L211.8 74.7 L212.1 51.7 L212.4 74.7 L212.7 51.2 L213.0 74.7 L213.3 51.3 L213.6 75.2 L213.9 51.3 L214.2 75.7 L214.5 51.2 L214.8 76.1 L215.1 51.0 L215.4 76.6 L215.7 50.8 L216.0 77.0 L216.3 50.9 L216.6 76.5 L216.9 51.3 L217.2 75.5 L217.5 51.6 L217.8 74.4 L218.1 51.2 L218.4 74.5 L218.7 49.7 L219.0 73.8 L219.3 47.9 L219.6 72.4 L219.9 47.2 L220.2 71.8 L220.5 47.5 L220.8 71.9 L221.1 47.7 L221.4 72.4 L221.7 47.8 L222.0 73.1 L222.3 47.9 L222.6 73.8 L222.9 47.7 L223.2 73.1 L223.5 47.6 L223.8 72.5 L224.1 47.4 L224.4 72.1 L224.7 47.1 L225.0 72.1 L225.3 46.8 L225.6 72.2 L225.9 46.8 L226.2 72.3 L226.5 47.0 L226.8 72.5 L227.1 47.1 L227.4 72.6 L227.7 47.3 L228.0 73.1 L228.3 47.4 L228.6 73.6 L228.9 47.5 L229.2 73.7 L229.5 47.5 L229.8 73.1 L230.1 47.5 L230.4 72.4 L230.7 47.4 L231.0 72.3 L231.3 47.3 L231.6 72.5 L231.9 47.2 L232.2 72.8 L232.5 47.4 L232.8 72.8 L233.1 47.5 L233.4 72.8 L233.7 47.6 L234.0 72.8 L234.3 47.5 L234.6 72.8 L234.9 47.4 L235.2 72.8 L235.5 47.2 L235.8 72.8 L236.1 46.9 L236.4 72.7 L236.7 46.7 L237.0 72.7 L237.3 46.7 L237.6 73.1 L237.9 46.7 L238.2 73.5 L238.5 46.7 L238.8 73.5 L239.1 46.8 L239.4 72.9 L239.7 46.9 L240.0 72.2 L240.3 47.2 L240.6 72.2 L240.9 47.7 L241.2 72.5 L241.5 48.2 L241.8 72.9 L242.1 47.9 L242.4 72.4 L242.7 47.6 L243.0 72.0 L243.3 47.4 L243.6 72.0 L243.9 47.6 L244.2 72.9 L244.5 47.7 L244.8 73.7 L245.1 47.5 L245.4 73.6 L245.7 47.1 L246.0 73.1 L246.3 46.8 L246.6 72.6 L246.9 47.2 L247.2 73.3 L247.5 47.6 L247.8 73.9 L248.1 47.7 L248.4 74.2 L248.7 47.3 L249.0 73.8 L249.3 46.9 L249.6 73.5 L249.9 47.0 L250.2 73.0 L250.5 47.5 L250.8 72.5 L251.1 48.0 L251.4 72.0 L251.7 47.8 L252.0 72.8 L252.3 47.7 L252.6 73.6 L252.9 47.5 L253.2 73.9 L253.5 47.2 L253.8 73.2 L254.1 46.8 L254.4 72.5 L254.7 46.8 L255.0 72.5 L255.3 47.1 L255.6 72.9 L255.9 47.3 L256.2 73.3 L256.5 47.1 L256.8 73.4 L257.1 46.9 L257.4 73.6 L257.7 46.8 L258.0 73.4 L258.3 47.1 L258.6 72.7 L258.9 47.3 L259.2 71.9 L259.5 47.6 L259.8 71.7 L260.1 47.8 L260.4 71.8 L260.7 48.0 L261.0 71.9 L261.3 47.7 L261.6 72.2 L261.9 47.3 L262.2 72.4 L262.5 47.2 L262.8 72.6 L263.1 47.3 L263.4 72.5 L263.7 47.4 L264.0 72.5 L264.3 47.5 L264.6 72.4 L264.9 47.5 L265.2 72.3 L265.5 47.5 L265.8 72.3 L266.1 48.1 L266.4 72.5 L266.7 50.8 L267.0 73.8 L267.3 52.8 L267.6 75.0 L267.9 52.8 L268.2 75.1 L268.5 52.8 L268.8 75.2 L269.1 52.2 L269.4 75.7 L269.7 51.3 L270.0 76.4 L270.3 50.4 L270.6 77.1 L270.9 50.4 L271.2 76.5 L271.5 50.4 L271.8 75.9 L272.1 50.3 L272.4 75.5 L272.7 50.3 L273.0 75.5 L273.3 50.3 L273.6 75.5 L273.9 50.8 L274.2 75.4 L274.5 51.4 L274.8 75.1 L275.1 52.1 L275.4 74.9 L275.7 52.5 L276.0 74.8 L276.3 52.8 L276.6 74.8 L276.9 52.9 L277.2 74.7 L277.5 52.3 L277.8 74.8 L278.1 51.7 L278.4 74.9 L278.7 51.4 L279.0 75.4 L279.3 51.2 L279.6 76.1 L279.9 51.0 L280.2 76.8 L280.5 51.1 L280.8 76.8 L281.1 51.2 L281.4 76.8 L281.7 51.5 L282.0 76.5 L282.3 52.1 L282.6 75.7 L282.9 52.8 L283.2 74.9 L283.5 52.9 L283.8 74.8 L284.1 52.7 L284.4 75.1 L284.7 52.5 L285.0 75.3 L285.3 52.0 L285.6 75.5 L285.9 51.4 L286.2 75.8 L286.5 51.3 L286.8 75.9 L287.1 52.1 L287.4 75.9 L287.7 52.8 L288.0 75.8 L288.3 52.4 L288.6 75.5 L288.9 51.6 L289.2 75.2 L289.5 50.7 L289.8 74.8 L290.1 50.5 L290.4 74.6 L290.7 50.3 L291.0 74.4 L291.3 50.5 L291.6 74.6 L291.9 51.3 L292.2 75.4 L292.5 52.2 L292.8 76.3 L293.1 52.6 L293.4 76.0 L293.7 52.8 L294.0 75.3 L294.3 53.0 L294.6 74.5 L294.9 52.0 L295.2 74.8 L295.5 51.0 L295.8 75.1 L296.1 50.3 L296.4 75.5 L296.7 50.6 L297.0 75.9 L297.3 50.8 L297.6 76.3 L297.9 51.1 L298.2 76.4 L298.5 51.5 L298.8 76.3 L299.1 51.8 L299.4 76.2 L299.7 51.8 L300.0 75.9 L300.3 51.8 L300.6 75.6 L300.9 51.6 L301.2 75.5 L301.5 51.1 L301.8 76.0 L302.1 50.6 L302.4 76.4 L302.7 50.9 L303.0 76.7 L303.3 51.5 L303.6 76.9 L303.9 52.1 L304.2 77.1 L304.5 52.5 L304.8 76.6 L305.1 52.8 L305.4 76.0 L305.7 52.8 L306.0 75.7 L306.3 52.2 L306.6 76.2 L306.9 51.6 L307.2 76.7 L307.5 51.6 L307.8 76.5 L308.1 51.9 L308.4 76.1 L308.7 52.3 L309.0 75.7 L309.3 51.8 L309.6 75.6 L309.9 51.4 L310.2 75.4 L310.5 51.1 L310.8 75.5 L311.1 50.8 L311.4 76.2 L311.7 50.5 L312.0 76.9 L312.3 50.8 L312.6 77.0 L312.9 51.5 L313.2 76.7 L313.5 52.1 L313.8 76.5 L314.1 52.2 L314.4 75.7 L314.7 52.4 L315.0 75.0 L315.3 52.5 L315.6 74.7 L315.9 52.8 L316.2 75.2 L316.5 51.2 L316.8 74.2 L317.1 48.3 L317.4 72.5 L317.7 47.4 L318.0 72.1 L318.3 46.9 L318.6 71.9 L318.9 47.4 L319.2 72.0 L319.5 47.9 L319.8 72.1 L320.1 48.1 L320.4 72.3 L320.7 47.5 L321.0 72.6 L321.3 46.9 L321.6 72.9 L321.9 46.8 L322.2 72.7 L322.5 47.0 L322.8 72.2 L323.1 47.1 L323.4 71.8 L323.7 47.0 L324.0 72.1 L324.3 46.9 L324.6 72.4 L324.9 46.8 L325.2 72.4 L325.5 46.8 L325.8 72.0 L326.1 46.9 L326.4 71.6 L326.7 47.2 L327.0 71.6 L327.3 47.6 L327.6 71.8 L327.9 48.1 L328.2 72.1 L328.5 48.1 L328.8 72.6 L329.1 48.1 L329.4 73.1 L329.7 47.9 L330.0 73.4 L330.3 47.4 L330.6 73.2 L330.9 46.8 L331.2 73.0 L331.5 47.0 L331.8 72.7 L332.1 47.4 L332.4 72.3 L332.7 47.9 L333.0 71.8 L333.3 47.5 L333.6 71.7 L333.9 47.2 L334.2 71.6 L334.5 47.1 L334.8 71.7 L335.1 47.5 L335.4 72.1 L335.7 48.0 L336.0 72.4 L336.3 48.0 L336.6 72.5 L336.9 47.9 L337.2 72.3 L337.5 47.9 L337.8 72.2 L338.1 47.6 L338.4 72.8 L338.7 47.4 L339.0 73.3 L339.3 47.3 L339.6 73.5 L339.9 47.6 L340.2 72.7 L340.5 47.9 L340.8 71.9 L341.1 47.7 L341.4 72.1 L341.7 47.4 L342.0 72.8 L342.3 47.0 L342.6 73.5 L342.9 47.0 L343.2 72.7 L343.5 46.9 L343.8 72.0 L344.1 46.9 L344.4 71.7 L344.7 47.3 L345.0 72.3 L345.3 47.7 L345.6 72.9 L345.9 47.8 L346.2 73.2 L346.5 47.8 L346.8 73.3 L347.1 47.9 L347.4 73.3 L347.7 48.0 L348.0 72.6 L348.3 48.2 L348.6 71.8 L348.9 48.3 L349.2 71.4 L349.5 48.0 L349.8 71.7 L350.1 47.7 L350.4 72.0 L350.7 47.8 L351.0 72.3 L351.3 48.0 L351.6 72.6 L351.9 48.3 L352.2 72.9 L352.5 47.9 L352.8 72.5 L353.1 47.6 L353.4 72.2 L353.7 47.3 L354.0 71.9 L354.3 47.3 L354.6 71.5 L354.9 47.2 L355.2 71.2 L355.5 47.2 L355.8 71.6 L356.1 47.3 L356.4 72.3 L356.7 47.4 L357.0 73.1 L357.3 47.4 L357.6 72.7 L357.9 47.3 L358.2 72.4 L358.5 47.3 L358.8 72.1 L359.1 47.3 L359.4 71.8 L359.7 47.3 L360.0 71.4 L360.3 47.2 L360.6 71.2 L360.9 47.0 L361.2 71.1 L361.5 46.8 L361.8 70.9 L362.1 47.4 L362.4 71.7 L362.7 49.5 L363.0 73.7 L363.3 51.3 L363.6 75.2 L363.9 50.9 L364.2 75.0 L364.5 50.5 L364.8 74.7 L365.1 50.8 L365.4 75.0 L365.7 51.4 L366.0 75.6 L366.3 51.9 L366.6 76.2 L366.9 52.2 L367.2 75.5 L367.5 52.4 L367.8 74.7 L368.1 52.5 L368.4 74.2 L368.7 52.5 L369.0 74.0 L369.3 52.4 L369.6 73.9 L369.9 51.9 L370.2 74.5 L370.5 51.3 L370.8 75.5 L371.1 50.6 L371.4 76.5 L371.7 51.3 L372.0 75.9 L372.3 51.9 L372.6 75.4 L372.9 52.1 L373.2 75.2 L373.5 51.5 L373.8 75.7 L374.1 50.9 L374.4 76.1 L374.7 50.6 L375.0 76.1 L375.3 50.4 L375.6 75.8 L375.9 50.3 L376.2 75.5 L376.5 50.7 L376.8 75.8 L377.1 51.1 L377.4 76.2 L377.7 51.5 L378.0 76.4 L378.3 52.0 L378.6 76.5 L378.9 52.4 L379.2 76.5 L379.5 52.2 L379.8 75.9 L380.1 51.7 L380.4 75.0 L380.7 51.1 L381.0 74.0 L381.3 51.4 L381.6 74.2 L381.9 51.7 L382.2 74.4 L382.5 51.7 L382.8 74.6 L383.1 51.1 L383.4 74.4 L383.7 50.5 L384.0 74.3 L384.3 50.8 L384.6 74.9 L384.9 51.6 L385.2 75.7 L385.5 52.3 L385.8 76.6 L386.1 52.3 L386.4 76.3 L386.7 52.3 L387.0 76.0 L387.3 52.2 L387.6 75.9 L387.9 51.9 L388.2 76.2 L388.5 51.6 L388.8 76.4 L389.1 51.5 L389.4 76.6 L389.7 51.5 L390.0 76.6 L390.3 51.5 L390.6 76.7 L390.9 51.9 L391.2 76.5 L391.5 52.2 L391.8 76.3 L392.1 52.4 L392.4 76.2 L392.7 52.2 L393.0 76.2 L393.3 51.9 L393.6 76.3 L393.9 51.7 L394.2 76.4 L394.5 51.3 L394.8 76.5 L395.1 51.0 L395.4 76.6 L395.7 51.2 L396.0 76.2 L396.3 51.4 L396.6 75.8 L396.9 51.7 L397.2 75.7 L397.5 52.2 L397.8 75.9 L398.1 52.7 L398.4 76.1 L398.7 52.6 L399.0 76.3 L399.3 52.2 L399.6 76.5 L399.9 51.8 L400.2 76.7 L400.5 51.8 L400.8 76.1 L401.1 51.8 L401.4 75.5 L401.7 51.7 L402.0 75.1 L402.3 51.7 L402.6 74.8 L402.9 51.7 L403.2 74.5 L403.5 52.0 L403.8 74.7 L404.1 52.5 L404.4 75.2 L404.7 52.9 L405.0 75.7 L405.3 52.6 L405.6 75.1 L405.9 52.4 L406.2 74.4 L406.5 51.9 L406.8 74.0 L407.1 51.2 L407.4 74.3 L407.7 50.4 L408.0 74.6 L408.3 50.2 L408.6 74.7 L408.9 50.3 L409.2 74.8 L409.5 50.4 L409.8 74.9 L410.1 50.3 L410.4 75.4 L410.7 50.2 L411.0 75.8 L411.3 50.2 L411.6 75.9 L411.9 50.5 L412.2 75.0 L412.5 50.7 L412.8 74.1 L413.1 51.0 L413.4 74.0 L413.7 51.3 L414.0 74.4 L414.3 51.7 L414.6 74.7 L414.9 51.1 L415.2 74.7 L415.5 50.6 L415.8 74.7 L416.1 50.4 L416.4 74.8 L416.7 51.1 L417.0 75.2 L417.3 51.9 L417.6 75.6 L417.9 51.9 L418.2 75.9 L418.5 50.5 L418.8 75.4 L419.1 48.3 L419.4 74.3 L419.7 47.3 L420.0 73.1 L420.3 47.3 L420.6 72.7 L420.9 47.4 L421.2 72.5 L421.5 47.5 L421.8 72.9 L422.1 47.6 L422.4 73.3 L422.7 47.7 L423.0 73.2 L423.3 47.8 L423.6 72.7 L423.9 47.9 L424.2 72.2 L424.5 47.9 L424.8 72.3 L425.1 47.8 L425.4 72.4 L425.7 47.7 L426.0 72.4 L426.3 47.5 L426.6 72.2 L426.9 47.3 L427.2 72.0 L427.5 47.4 L427.8 71.8 L428.1 47.6 L428.4 71.7 L428.7 47.9 L429.0 71.5 L429.3 47.8 L429.6 72.3 L429.9 47.8 L430.2 73.1 L430.5 47.8 L430.8 73.5 L431.1 47.8 L431.4 73.2 L431.7 47.8 L432.0 72.9 L432.3 47.8 L432.6 72.5 L432.9 47.8 L433.2 72.1 L433.5 47.8 L433.8 71.8 L434.1 47.5 L434.4 72.1 L434.7 47.1 L435.0 72.4 L435.3 47.0 L435.6 72.5 L435.9 47.2 L436.2 72.4 L436.5 47.4 L436.8 72.2 L437.1 47.7 L437.4 71.9 L437.7 48.0 L438.0 71.5 L438.3 48.4 L438.6 71.1 L438.9 47.9 L439.2 71.8 L439.5 47.4 L439.8 72.5 L440.1 47.1 L440.4 73.1 L440.7 47.3 L441.0 73.3 L441.3 47.4 L441.6 73.5 L441.9 47.4 L442.2 73.4 L442.5 47.2 L442.8 73.1 L443.1 47.0 L443.4 72.8 L443.7 47.2 L444.0 72.3 L444.3 47.4 L444.6 71.7 L444.9 47.6 L445.2 71.5 L445.5 47.7 L445.8 71.8 L446.1 47.8 L446.4 72.1 L446.7 47.6 L447.0 72.0 L447.3 47.2 L447.6 71.8 L447.9 46.9 L448.2 71.6 L448.5 47.3 L448.8 71.5 L449.1 47.8 L449.4 71.5 L449.7 48.1 L450.0 71.5 L450.3 48.0 L450.6 71.6 L450.9 47.9 L451.2 71.8 L451.5 47.8 L451.8 72.3 L452.1 47.7 L452.4 73.0 L452.7 47.5 L453.0 73.6 L453.3 47.3 L453.6 73.6 L453.9 47.0 L454.2 73.5 L454.5 47.0 L454.8 73.5 L455.1 47.5 L455.4 73.4 L455.7 48.0 L456.0 73.3 L456.3 48.1 L456.6 73.4 L456.9 47.9 L457.2 73.6 L457.5 47.8 L457.8 73.7 L458.1 47.7 L458.4 72.8 L458.7 47.5 L459.0 71.9 L459.3 47.4 L459.6 71.3 L459.9 47.3 L460.2 71.4 L460.5 47.2 L460.8 71.6 L461.1 47.4 L461.4 71.5 L461.7 47.8 L462.0 71.3 L462.3 48.2 L462.6 71.1 L462.9 47.8 L463.2 71.0 L463.5 47.3 L463.8 71.0 L464.1 47.1 L464.4 71.2 L464.7 47.2 L465.0 71.9 L465.3 47.4 L465.6 72.6 L465.9 47.4 L466.2 72.7 L466.5 47.4 L466.8 72.4 L467.1 47.5 L467.4 72.2 L467.7 47.6 L468.0 72.4 L468.3 49.2 L468.6 73.6 L468.9 51.4 L469.2 75.1 L469.5 51.8 L469.8 75.7 L470.1 51.8 L470.4 76.0 L470.7 51.4 L471.0 75.7 L471.3 50.8 L471.6 75.1 L471.9 50.1 L472.2 74.4 L472.5 50.0 L472.8 74.4 L473.1 49.9 L473.4 74.3 L473.7 50.1 L474.0 74.5 L474.3 51.0 L474.6 75.1 L474.9 51.9 L475.2 75.8 L475.5 52.2 L475.8 75.4 L476.1 52.2 L476.4 74.5 L476.7 52.1 L477.0 73.6 L477.3 51.6 L477.6 74.6 L477.9 51.1 L478.2 75.7 L478.5 50.7 L478.8 76.1 L479.1 50.6 L479.4 75.5 L479.7 50.5 L480.0 74.8 L480.3 50.4 L480.6 74.4 L480.9 50.4 L481.2 74.0 L481.5 50.3 L481.8 73.7 L482.1 50.9 L482.4 73.9 L482.7 51.4 L483.0 74.1 L483.3 51.9 L483.6 74.1 L483.9 52.0 L484.2 74.0 L484.5 52.1 L484.8 73.8 L485.1 52.2 L485.4 74.4 L485.7 52.4 L486.0 75.2 L486.3 52.5 L486.6 76.1 L486.9 52.2 L487.2 75.2 L487.5 51.8 L487.8 74.3 L488.1 51.5 L488.4 73.7 L488.7 51.3 L489.0 73.7 L489.3 51.1 L489.6 73.7 L489.9 50.8 L490.2 74.1 L490.5 50.4 L490.8 74.8 L491.1 50.1 L491.4 75.4 L491.7 51.0 L492.0 74.9 L492.3 52.0 L492.6 74.5 L492.9 52.6 L493.2 74.2 L493.5 52.5 L493.8 74.4 L494.1 52.5 L494.4 74.5 L494.7 52.0 L495.0 74.9 L495.3 51.4 L495.6 75.4 L495.9 50.7 L496.2 75.9 L496.5 50.7 L496.8 75.5 L497.1 50.7 L497.4 75.1 L497.7 50.9 L498.0 74.9 L498.3 51.5 L498.6 75.3 L498.9 52.1 L499.2 75.6 L499.5 52.3 L499.8 75.4 L500.1 52.4 L500.4 74.9 L500.7 52.4 L501.0 74.4 L501.3 52.5 L501.6 74.2 L501.9 52.5 L502.2 74.1 L502.5 52.4 L502.8 73.9 L503.1 51.7 L503.4 73.8 L503.7 51.0 L504.0 73.8 L504.3 51.0 L504.6 74.3 L504.9 51.4 L505.2 75.2 L505.5 51.8 L505.8 76.1 L506.1 51.9 L506.4 75.3 L506.7 51.9 L507.0 74.5 L507.3 51.8 L507.6 73.9 L507.9 51.3 L508.2 73.9 L508.5 50.8 L508.8 73.8 L509.1 51.1 L509.4 73.8 L509.7 51.7 L510.0 73.9 L510.3 52.3 L510.6 74.0 L510.9 51.8 L511.2 74.4 L511.5 51.3 L511.8 74.8 L512.1 51.2 L512.4 75.2 L512.7 51.7 L513.0 75.4 L513.3 52.2 L513.6 75.6 L513.9 52.4 L514.2 75.5 L514.5 52.4 L514.8 75.3 L515.1 52.4 L515.4 75.0 L515.7 51.7 L516.0 75.2 L516.3 51.1 L516.6 75.3 L516.9 50.6 L517.2 75.4 L517.5 50.4 L517.8 75.2 L518.1 50.3 L518.4 75.1 L518.7 50.5 L519.0 75.2 L519.3 50.8 L519.6 75.5 L519.9 51.2 L520.2 75.8 L520.5 51.3 L520.8 75.6 L521.1 50.4 L521.4 74.8 L521.7 48.4 L522.0 73.1 L522.3 47.2 L522.6 71.9 L522.9 47.0 L523.2 71.4 L523.5 47.2 L523.8 71.4 L524.1 47.6 L524.4 71.6 L524.7 48.1 L525.0 71.8 L525.3 47.9 L525.6 72.5 L525.9 47.8 L526.2 73.2 L526.5 47.6 L526.8 73.5 L527.1 47.1 L527.4 72.9 L527.7 46.7 L528.0 72.3 L528.3 46.6 L528.6 72.3 L528.9 46.5 L529.2 72.5 L529.5 46.5 L529.8 72.8 L530.1 47.1 L530.4 72.2 L530.7 47.7 L531.0 71.6 L531.3 48.1 L531.6 71.5 L531.9 48.2 L532.2 72.0 L532.5 48.2 L532.8 72.6 L533.1 47.9 L533.4 72.8 L533.7 47.3 L534.0 72.8 L534.3 46.8 L534.6 72.8 L534.9 47.0 L535.2 72.2 L535.5 47.2 L535.8 71.6 L536.1 47.3 L536.4 71.5 L536.7 47.1 L537.0 72.4 L537.3 46.9 L537.6 73.3 L537.9 46.9 L538.2 73.2 L538.5 47.0 L538.8 72.5 L539.1 47.0 L539.4 71.9 L539.7 47.2 L540.0 71.9 L540.3 47.3 L540.6 71.8 L540.9 47.3 L541.2 71.9 L541.5 47.2 L541.8 72.3 L542.1 47.0 L542.4 72.7 L542.7 47.0 L543.0 73.0 L543.3 47.0 L543.6 73.2 L543.9 47.1 L544.2 73.5 L544.5 47.5 L544.8 73.4 L545.1 47.9 L545.4 73.3 L545.7 48.1 L546.0 73.2 L546.3 47.8 L546.6 72.9 L546.9 47.5 L547.2 72.5 L547.5 47.2 L547.8 72.1 L548.1 46.9 L548.4 71.5 L548.7 46.6 L549.0 70.9 L549.3 46.7 L549.6 71.4 L549.9 46.7 L550.2 71.9 L550.5 46.8 L550.8 72.3 L551.1 46.9 L551.4 72.4 L551.7 47.0 L552.0 72.6 L552.3 47.0 L552.6 72.8 L552.9 47.1 L553.2 73.0 L553.5 47.1 L553.8 73.3 L554.1 46.9 L554.4 72.5 L554.7 46.8 L555.0 71.8 L555.3 46.8 L555.6 71.5 L555.9 47.2 L556.2 71.8 L556.5 47.6 L556.8 72.0 L557.1 47.6 L557.4 72.3 L557.7 47.6 L558.0 72.5 L558.3 47.5 L558.6 72.7 L558.9 47.3 L559.2 72.7 L559.5 47.2 L559.8 72.8 L560.1 47.0 L560.4 72.6 L560.7 46.9 L561.0 71.9 L561.3 46.8 L561.6 71.1 L561.9 46.9 L562.2 71.5 L562.5 47.3 L562.8 72.4 L563.1 47.6 L563.4 73.4 L563.7 47.7 L564.0 72.5 L564.3 47.8 L564.6 71.7 L564.9 47.9 L565.2 71.4 L565.5 47.8 L565.8 72.2 L566.1 47.7 L566.4 73.0 L566.7 47.6 L567.0 73.3 L567.3 47.5 L567.6 73.3 L567.9 47.4 L568.2 73.3 L568.5 47.6 L568.8 73.1 L569.1 47.9 L569.4 72.8 L569.7 47.9 L570.0 72.6 L570.3 47.5 L570.6 72.5 L570.9 47.2 L571.2 72.4 L571.5 46.9 L571.8 72.2 L572.1 47.1 L572.4 72.2 L572.7 48.7 L573.0 73.1 L573.3 50.3 L573.6 74.0 L573.9 51.0 L574.2 74.1 L574.5 51.1 L574.8 74.3 L575.1 50.4 L575.4 74.9 L575.7 49.7 L576.0 75.5 L576.3 49.9 L576.6 75.5 L576.9 50.5 L577.2 75.2 L577.5 51.1 L577.8 74.9 L578.1 51.0 L578.4 74.7 L578.7 50.8 L579.0 74.5 L579.3 50.6 L579.6 74.3 L579.9 50.1 L580.2 74.2 L580.5 49.6 L580.8 74.0 L581.1 49.6 L581.4 74.5 L581.7 49.9 L582.0 75.2 L582.3 50.2 L582.6 75.9 L582.9 50.4 L583.2 75.8 L583.5 50.7 L583.8 75.8 L584.1 50.7 L584.4 75.7 L584.7 50.4 L585.0 75.7 L585.3 50.1 L585.6 75.7 L585.9 50.2 L586.2 75.7 L586.5 50.6 L586.8 75.7 L587.1 50.9 L587.4 75.7 L587.7 50.6 L588.0 75.0 L588.3 50.3 L588.6 74.4 L588.9 50.3 L589.2 74.1 L589.5 50.9 L589.8 74.7 L590.1 51.4 L590.4 75.2 L590.7 51.7 L591.0 75.3 L591.3 51.9 L591.6 75.1 L591.9 52.0 L592.2 74.9 L592.5 51.4 L592.8 75.2 L593.1 50.8 L593.4 75.4 L593.7 50.5 L594.0 75.5 L594.3 50.6 L594.6 75.3 L594.9 50.6 L595.2 75.1 L595.5 50.7 L595.8 75.1 L596.1 50.8 L596.4 75.3 L596.7 50.8 L597.0 75.4 L597.3 51.2 L597.6 75.3 L597.9 51.6 L598.2 75.3 L598.5 51.5 L598.8 75.2 L599.1 50.6 L599.4 74.9 L599.7 49.7 L600.0 74.7 L600.3 50.0 L600.6 74.7 L600.9 50.9 L601.2 74.8 L601.5 51.8 L601.8 74.9 L602.1 50.9 L602.4 74.2 L602.7 49.9 L603.0 73.5 L603.3 49.5 L603.6 73.2 L603.9 50.2 L604.2 73.5 L604.5 51.0 L604.8 73.9 L605.1 51.2 L605.4 74.3 L605.7 51.3 L606.0 74.8 L606.3 51.3 L606.6 75.2 L606.9 50.6 L607.2 74.4 L607.5 49.8 L607.8 73.6 L608.1 49.3 L608.4 73.2 L608.7 49.3 L609.0 73.4 L609.3 49.2 L609.6 73.7 L609.9 49.4 L610.2 74.0 L610.5 49.7 L610.8 74.4 L611.1 50.0 L611.4 74.7 L611.7 49.7 L612.0 74.5 L612.3 49.4 L612.6 74.3 L612.9 49.5 L613.2 74.0 L613.5 50.4 L613.8 73.6 L614.1 51.3 L614.4 73.2 L614.7 51.0 L615.0 73.1 L615.3 50.3 L615.6 73.2 L615.9 49.5 L616.2 73.3 L616.5 49.8 L616.8 73.9 L617.1 50.0 L617.4 74.4 L617.7 50.3 L618.0 74.7 L618.3 50.7 L618.6 74.6 L618.9 51.0 L619.2 74.5 L619.5 50.9 L619.8 74.4 L620.1 50.6 L620.4 74.5 L620.7 50.2 L621.0 74.5 L621.3 50.8 L621.6 74.9 L621.9 51.3 L622.2 75.2 L622.5 51.4 L622.8 75.5 L623.1 50.7 L623.4 75.5 L623.7 49.9 L624.0 75.5 L624.3 49.7 L624.6 75.1 L624.9 49.9 L625.2 74.4 L625.5 49.1 L625.8 72.6 L626.1 47.3 L626.4 71.1 L626.7 46.6 L627.0 70.8 L627.3 46.8 L627.6 71.1 L627.9 46.7 L628.2 70.7 L628.5 46.6 L628.8 70.2 L629.1 46.6 L629.4 70.2 L629.7 46.5 L630.0 70.3 L630.3 46.5 L630.6 70.4 L630.9 46.4 L631.2 69.8 L631.5 46.2 L631.8 69.2 L632.1 46.2 L632.4 68.9 L632.7 46.4 L633.0 69.3 L633.3 46.5 L633.6 69.6 L633.9 46.6 L634.2 70.1 L634.5 46.5 L634.8 70.7 L635.1 46.5 L635.4 71.3 L635.7 46.3 L636.0 71.3 L636.3 46.1 L636.6 71.3 L636.9 46.1 L637.2 71.1 L637.5 46.4 L637.8 70.5 L638.1 46.6 L638.4 69.9 L638.7 46.5 L639.0 69.6 L639.3 46.1 L639.6 69.4 L639.9 45.6 L640.2 69.2 L640.5 45.8 L640.8 70.0 L641.1 46.1 L641.4 70.8 L641.7 46.2 L642.0 71.1 L642.3 46.2 L642.6 70.6 L642.9 46.3 L643.2 70.1 L643.5 46.2 L643.8 70.2 L644.1 46.1 L644.4 70.7 L644.7 46.0 L645.0 71.2 L645.3 46.2 L645.6 70.2 L645.9 46.5 L646.2 69.2 L646.5 46.6 L646.8 68.7 L647.1 46.1 L647.4 69.3 L647.7 45.6 L648.0 69.9 L648.3 45.7 L648.6 69.9 L648.9 46.3 L649.2 69.6 L649.5 46.8 L649.8 69.2 L650.1 46.5 L650.4 68.9 L650.7 46.2 L651.0 68.6 L651.2 70.0 L651.7 69.9 L652.2 69.7 L652.7 69.4 L653.2 69.0 L653.7 68.6 L654.2 68.2 L654.7 67.7 L655.2 67.2 L655.7 66.7 L656.2 66.1 L656.7 65.3 L657.2 64.4 L657.7 63.5 L658.2 62.5 L658.7 61.6 L659.2 60.7 L659.7 59.7 L660.2 58.7 L660.7 57.7 L661.2 56.8 L661.7 55.9 L662.2 55.0 L662.7 54.1 L663.2 53.3 L663.7 52.5 L664.2 51.7 L664.7 51.0 L665.2 50.3 L665.7 49.8 L666.2 49.3 L666.7 48.9 L667.2 48.5 L667.7 48.1 L668.2 47.9 L668.7 47.7 L669.2 47.6 L669.7 47.5 L670.2 47.5 L670.7 47.4 L671.0 47.4 L671.2 49.6 L671.5 73.6 L671.8 49.3 L672.1 74.5 L672.4 48.9 L672.7 75.3 L673.0 48.8 L673.3 74.9 L673.6 48.7 L673.9 74.4 L674.2 48.6 L674.5 74.2 L674.8 48.7 L675.1 74.4 L675.4 48.8 L675.7 74.6 L676.0 49.0 L676.3 74.2 L676.6 49.4 L676.9 73.6 L677.2 49.7 L677.5 72.9 L677.8 49.4 L678.1 73.4 L678.4 49.0 L678.7 73.9 L679.0 48.8 L679.3 74.1 L679.6 48.8 L679.9 73.7 L680.2 48.8 L680.5 73.3 L680.8 48.9 L681.1 73.4 L681.4 49.1 L681.7 73.6 L682.0 49.3 L682.3 73.8 L682.6 49.1 L682.9 73.7 L683.2 48.9 L683.5 73.7 L683.8 49.0 L684.1 73.8 L684.4 49.5 L684.7 74.3 L685.0 49.9 L685.3 74.7 L685.6 50.0 L685.9 74.5 L686.2 49.9 L686.5 74.0 L686.8 49.8 L687.1 73.4 L687.4 49.7 L687.7 73.8 L688.0 49.5 L688.3 74.2 L688.6 49.3 L688.9 74.4 L689.2 49.0 L689.5 73.9 L689.8 48.6 L690.1 73.4 L690.4 48.6 L690.7 73.4 L691.0 48.7 L691.3 73.8 L691.6 48.9 L691.9 74.1 L692.2 48.9 L692.5 74.4 L692.8 48.9 L693.1 74.7 L693.4 48.9 L693.7 74.6 L694.0 48.8 L694.3 73.9 L694.6 48.7 L694.9 73.2 L695.2 48.7 L695.5 73.1 L695.8 48.8 L696.1 73.3 L696.4 48.8 L696.7 73.5 L697.0 49.3 L697.3 74.2 L697.6 49.7 L697.9 74.8 L698.2 49.8 L698.5 75.2 L698.8 49.3 L699.1 75.0 L699.4 48.7 L699.7 74.8 L700.0 48.6 L700.3 74.8 L700.6 48.7 L700.9 74.9 L701.2 48.8 L701.5 74.9 L701.8 49.1 L702.1 74.6 L702.4 49.5 L702.7 74.3 L703.0 49.6 L703.3 74.0 L703.6 49.4 L703.9 73.7 L704.2 49.1 L704.5 73.5 L704.8 49.1 L705.1 73.2 L705.4 49.2 L705.7 72.9 L706.0 49.3 L706.3 72.7 L706.6 49.6 L706.9 73.5 L707.2 49.9 L707.5 74.3 L707.8 49.9 L708.1 74.6 L708.4 49.4 L708.7 73.7 L709.0 48.8 L709.3 72.9 L709.6 48.9 L709.9 73.2 L710.2 49.2 L710.5 74.1 L710.8 49.5 L711.1 75.0 L711.4 49.3 L711.7 75.0 L712.0 49.1 L712.3 75.0 L712.6 48.9 L712.9 75.0 L713.2 48.8 L713.5 75.1 L713.8 48.7 L714.1 75.1 L714.4 48.6 L714.7 75.0 L715.0 48.5 L715.3 74.8 L715.6 48.4 L715.9 74.6 L716.2 48.7 L716.5 74.4 L716.8 49.0 L717.1 74.3 L717.4 49.2 L717.7 74.1 L718.0 49.2 L718.3 73.8 L718.6 49.3 L718.9 73.5 L719.2 49.5 L719.5 73.7 L719.8 49.8 L720.1 74.2 L720.4 50.1 L720.7 74.7 L721.0 50.0 L721.3 74.4 L721.6 49.9 L721.9 74.2 L722.2 49.7 L722.5 73.9 L722.8 49.3 L723.1 73.9 L723.4 48.9 L723.7 73.8 L724.0 49.0 L724.3 73.5 L724.6 49.4 L724.9 73.0 L725.2 49.7 L725.5 72.6 L725.8 49.5 L726.1 72.6 L726.4 49.3 L726.7 72.6 L727.0 49.2 L727.3 72.8 L727.6 49.4 L727.9 73.4 L728.2 49.7 L728.5 74.0 L728.8 49.5 L729.1 73.8 L729.4 49.0 L729.7 73.2 L730.0 48.6 L730.3 72.6 L730.6 49.0 L730.9 73.2 L731.2 49.4 L731.5 73.9 L731.8 49.5 L732.1 74.2 L732.4 49.2 L732.7 73.9 L733.0 48.8 L733.3 73.6 L733.6 48.8 L733.9 73.3 L734.2 49.0 L734.5 72.9 L734.8 49.2 L735.1 72.6 L735.4 49.0 L735.7 73.1 L736.0 48.8 L736.3 73.5 L736.6 48.8 L736.9 74.0 L737.2 49.0 L737.5 74.2 L737.8 49.3 L738.1 74.5 L738.4 49.1 L738.7 74.7 L739.0 48.7 L739.3 74.9 L739.6 48.3 L739.9 75.1 L740.2 48.6 L740.5 74.3 L740.8 48.9 L741.1 73.5 L741.4 49.1 L741.7 73.0 L742.0 49.2 L742.3 73.1 L742.6 49.3 L742.9 73.3 L743.2 49.3 L743.5 73.4 L743.8 49.3 L744.1 73.5 L744.4 49.3 L744.7 73.6 L745.0 49.3 L745.3 73.6 L745.6 49.4 L745.9 73.6 L746.2 49.4 L746.5 73.5 L746.8 49.1 L747.1 73.2 L747.4 48.9 L747.7 73.0 L748.0 49.0 L748.3 72.9 L748.6 49.4 L748.9 73.0 L749.2 49.7 L749.5 73.1 L749.8 48.4 L750.1 71.7 L750.4 46.4 L750.7 69.6 L751.0 45.5 L751.3 69.0 L751.6 45.0 L751.9 69.5 L752.2 44.4 L752.5 70.1 L752.8 44.6 L753.1 70.6 L753.4 45.1 L753.7 71.1 L754.0 45.6 L754.3 71.5 L754.6 45.2 L754.9 70.6 L755.2 44.8 L755.5 69.6 L755.8 44.7 L756.1 69.1 L756.4 45.2 L756.7 69.8 L757.0 45.7 L757.3 70.5 L757.6 45.6 L757.9 70.6 L758.2 45.3 L758.5 70.3 L758.8 44.9 L759.1 70.1 L759.4 45.3 L759.7 69.9 L760.0 45.6 L760.3 69.7 L760.6 45.8 L760.9 69.5 L761.2 45.6 L761.5 69.5 L761.8 45.4 L762.1 69.5 L762.4 45.4 L762.7 70.0 L763.0 45.4 L763.3 70.8 L763.6 45.4 L763.9 71.5 L764.2 45.2 L764.5 70.5 L764.8 45.0 L765.1 69.5 L765.4 45.0 L765.7 69.1 L766.0 45.4 L766.3 69.6 L766.6 45.9 L766.9 70.1 L767.2 45.9 L767.5 70.3 L767.8 45.7 L768.1 70.2 L768.4 45.5 L768.7 70.2 L769.0 45.2 L769.3 70.6 L769.6 44.8 L769.9 71.1 L770.2 44.6 L770.5 71.1 L770.8 44.6 L771.1 70.3 L771.4 44.6 L771.7 69.4 L772.0 44.6 L772.3 69.0 L772.6 44.6 L772.9 68.8 L773.2 44.6 L773.5 68.6 L773.8 44.7 L774.1 69.6 L774.4 44.9 L774.7 70.6 L775.0 44.9 L775.3 71.0 L775.6 44.8 L775.9 70.4 L776.2 44.7 L776.5 69.7 L776.8 44.8 L777.1 69.6 L777.4 45.0 L777.7 69.7 L778.0 45.2 L778.3 69.8 L778.6 45.3 L778.9 69.5 L779.2 45.4 L779.5 69.1 L779.8 45.3 L780.1 68.9 L780.4 45.0 L780.7 69.1 L781.0 44.7 L781.3 69.2 L781.6 44.7 L781.9 69.2 L782.2 45.0 L782.5 69.2 L782.8 45.3 L783.1 69.2 L783.4 45.5 L783.7 69.7 L784.0 45.6 L784.3 70.3 L784.6 45.6 L784.9 70.4 L785.2 45.0 L785.5 69.8 L785.8 44.5 L786.1 69.2 L786.4 44.7 L786.7 69.0 L787.0 45.2 L787.3 69.1 L787.6 45.8 L787.9 69.1 L788.2 45.3 L788.5 69.4 L788.8 44.9 L789.1 69.6 L789.4 44.7 L789.7 69.8 L790.0 45.1 L790.3 69.8 L790.6 45.5 L790.9 69.8 L791.2 45.3 L791.5 69.5 L791.8 44.9 L792.1 69.1 L792.4 44.5 L792.7 68.7 L793.0 44.6 L793.3 69.8 L793.6 44.8 L793.9 70.8 L794.2 44.8 L794.5 71.5 L794.8 44.6 L795.1 71.3 L795.4 44.4 L795.7 71.1 L796.0 44.5 L796.3 71.0 L796.6 44.7 L796.9 71.0 L797.2 44.9 L797.5 70.9 L797.8 44.8 L798.1 70.8 L798.4 46.6 L798.7 72.5 L799.0 48.6 L799.3 74.1 L799.6 48.8 L799.9 73.8 L800.2 49.0 L800.5 73.4 L800.8 48.9 L801.1 73.5 L801.4 48.6 L801.7 73.8 L802.0 48.3 L802.3 74.1 L802.6 48.7 L802.9 74.3 L803.2 49.0 L803.5 74.5 L803.8 49.1 L804.1 74.6 L804.4 48.7 L804.7 74.5 L805.0 48.3 L805.3 74.3 L805.6 48.3 L805.9 74.4 L806.2 48.5 L806.5 74.6 L806.8 48.7 L807.1 74.8 L807.4 48.5 L807.7 74.6 L808.0 48.3 L808.3 74.5 L808.6 48.4 L808.9 74.4 L809.2 48.9 L809.5 74.4 L809.8 49.5 L810.1 74.3 L810.4 49.6 L810.7 74.4 L811.0 49.3 L811.3 74.6 L811.6 49.1 L811.9 74.8 L812.2 48.7 L812.5 74.7 L812.8 48.3 L813.1 74.6 L813.4 48.2 L813.7 74.3 L814.0 48.7 L814.3 73.8 L814.6 49.1 L814.9 73.3 L815.2 49.1 L815.5 73.2 L815.8 48.9 L816.1 73.4 L816.4 48.7 L816.7 73.6 L817.0 48.8 L817.3 73.1 L817.6 48.8 L817.9 72.7 L818.2 49.0 L818.5 72.5 L818.8 49.2 L819.1 72.8 L819.4 49.5 L819.7 73.2 L820.0 49.6 L820.3 73.5 L820.6 49.5 L820.9 73.7 L821.2 49.5 L821.5 74.0 L821.8 49.2 L822.1 73.5 L822.4 48.9 L822.7 73.0 L823.0 48.7 L823.3 72.8 L823.6 48.7 L823.9 73.2 L824.2 48.8 L824.5 73.6 L824.8 48.6 L825.1 73.6 L825.4 48.2 L825.7 73.3 L826.0 47.9 L826.3 73.0 L826.6 48.2 L826.9 72.9 L827.2 48.6 L827.5 72.8 L827.8 48.9 L828.1 72.8 L828.4 49.0 L828.7 72.9 L829.0 49.1 L829.3 73.1 L829.6 49.1 L829.9 73.3 L830.2 49.1 L830.5 73.5 L830.8 49.2 L831.1 73.8 L831.4 49.0 L831.7 73.7 L832.0 48.7 L832.3 73.5 L832.6 48.5 L832.9 73.4 L833.2 48.1 L833.5 73.4 L833.8 47.7 L834.1 73.4 L834.4 47.6 L834.7 73.6 L835.0 47.6 L835.3 74.0 L835.6 47.7 L835.9 74.3 L836.2 47.9 L836.5 74.2 L836.8 48.1 L837.1 74.0 L837.4 48.3 L837.7 73.9 L838.0 48.3 L838.3 73.8 L838.6 48.3 L838.9 73.8 L839.2 48.2 L839.5 73.4 L839.8 48.2 L840.1 72.9 L840.4 48.1 L840.7 72.3 L841.0 48.0 L841.3 72.2 L841.6 47.9 L841.9 72.1 L842.2 48.0 L842.5 72.2 L842.8 48.4 L843.1 72.6 L843.4 48.9 L843.7 73.0 L844.0 48.6 L844.3 72.9 L844.6 48.0 L844.9 72.6 L845.2 47.4 L845.5 72.3 L845.8 47.4 L846.1 72.9 L846.4 47.5 L846.7 73.5 L847.0 47.6 L847.3 74.0 L847.6 47.8 L847.9 74.2 L848.2 48.1 L848.5 74.4 L848.8 48.2 L849.1 74.4 L849.4 48.3 L849.7 74.3 L850.0 48.4 L850.3 74.2 L850.6 48.2 L850.9 73.8 L851.2 48.0 L851.5 73.3 L851.8 47.8 L852.1 73.2 L852.4 47.7 L852.7 73.6 L853.0 47.7 L853.3 73.9 L853.6 47.7 L853.9 73.9 L854.2 47.7 L854.5 73.7 L854.8 47.7 L855.1 73.5 L855.4 47.8 L855.7 73.2 L856.0 47.8 L856.3 72.9 L856.6 47.7 L856.9 72.7 L857.2 47.2 L857.5 72.7 L857.8 46.7 L858.1 72.7 L858.4 46.4 L858.7 72.4 L859.0 46.2 L859.3 71.8 L859.6 46.0 L859.9 71.3 L860.2 46.1 L860.5 71.0 L860.8 46.2 L861.1 70.8 L861.4 45.9 L861.7 70.5 L862.0 45.6 L862.3 71.0 L862.6 45.2 L862.9 71.4 L863.2 44.8 L863.5 71.3 L863.8 44.7 L864.1 71.4 L864.4 44.6 L864.7 71.5 L865.0 44.8 L865.3 70.9 L865.6 44.9 L865.9 70.4 L866.2 44.9 L866.5 70.1 L866.8 44.4 L867.1 70.2 L867.4 43.9 L867.7 70.3 L868.0 44.0 L868.3 70.4 L868.6 44.5 L868.9 70.7 L869.2 44.9 L869.5 70.9 L869.8 44.9 L870.1 70.1 L870.4 44.8 L870.7 69.4 L871.0 44.7 L871.3 69.1 L871.6 44.5 L871.9 69.8 L872.2 44.3 L872.5 70.5 L872.8 44.2 L873.1 70.8 L873.4 44.1 L873.7 70.9 L874.0 44.1 L874.3 70.9 L874.6 44.3 L874.9 70.3 L875.2 44.5 L875.5 69.7 L875.8 44.7 L876.1 69.4 L876.4 44.9 L876.7 69.8 L877.0 45.1 L877.3 70.1 L877.6 45.0 L877.9 70.4 L878.2 44.8 L878.5 70.7 L878.8 44.7 L879.1 71.0 L879.4 44.4 L879.7 71.1 L880.0 44.1 L880.3 71.3 L880.6 44.1 L880.9 71.2 L881.2 44.4 L881.5 70.6 L881.8 44.8 L882.1 70.0 L882.4 44.8 L882.7 69.6 L883.0 44.8 L883.3 69.3 L883.6 44.7 L883.9 69.0 L884.2 44.8 L884.5 69.7 L884.8 44.8 L885.1 70.3 L885.4 44.9 L885.7 70.7 L886.0 44.8 L886.3 70.6 L886.6 44.8 L886.9 70.4 L887.2 44.8 L887.5 70.3 L887.8 44.8 L888.1 70.2 L888.4 44.8 L888.7 70.0 L889.0 44.7 L889.3 69.9 L889.6 44.6 L889.9 69.8 L890.2 44.5 L890.5 69.6 L890.8 44.2 L891.1 69.2 L891.4 44.0 L891.7 68.8 L892.0 43.9 L892.3 69.3 L892.6 43.9 L892.9 70.3 L893.2 43.9 L893.5 71.3 L893.8 44.4 L894.1 70.7 L894.4 44.8 L894.7 70.1 L895.0 45.1 L895.3 69.6 L895.6 45.0 L895.9 69.2 L896.2 45.0 L896.5 68.8 L896.8 44.9 L897.1 68.7 L897.4 44.9 L897.7 68.8 L898.0 44.8 L898.3 68.9 L898.6 44.6 L898.9 69.4 L899.2 44.3 L899.5 70.0 L899.8 44.2 L900.1 70.1 L900.0 60.0"/>
<path fill="#70B844" d="M899.6 50 L902.45 50 L902.45 88 L902.2 91 L900.6 91.4 L899.9 88 Z"/>
</g>
<g text-anchor="end">
<text transform="translate(37.95 363.7) rotate(-90) scale(1.13 1)">2024-08-05 19:36:07</text>
<text transform="translate(56.51 363.7) rotate(-90) scale(1.13 1)">2024-08-05 20:56:07</text>
<text transform="translate(75.07 363.7) rotate(-90) scale(1.13 1)">2024-08-05 22:16:07</text>
<text transform="translate(93.64 363.7) rotate(-90) scale(1.13 1)">2024-08-05 23:36:07</text>
<text transform="translate(112.20 363.7) rotate(-90) scale(1.13 1)">2024-08-06 00:56:07</text>
<text transform="translate(130.76 363.7) rotate(-90) scale(1.13 1)">2024-08-06 02:16:07</text>
<text transform="translate(149.32 363.7) rotate(-90) scale(1.13 1)">2024-08-06 03:36:07</text>
<text transform="translate(167.88 363.7) rotate(-90) scale(1.13 1)">2024-08-06 04:56:07</text>
<text transform="translate(186.45 363.7) rotate(-90) scale(1.13 1)">2024-08-06 06:16:07</text>
<text transform="translate(205.01 363.7) rotate(-90) scale(1.13 1)">2024-08-06 07:36:07</text>
<text transform="translate(223.57 363.7) rotate(-90) scale(1.13 1)">2024-08-06 08:56:07</text>
<text transform="translate(242.13 363.7) rotate(-90) scale(1.13 1)">2024-08-06 10:16:07</text>
<text transform="translate(260.69 363.7) rotate(-90) scale(1.13 1)">2024-08-06 11:36:07</text>
<text transform="translate(279.26 363.7) rotate(-90) scale(1.13 1)">2024-08-06 12:56:07</text>
<text transform="translate(297.82 363.7) rotate(-90) scale(1.13 1)">2024-08-06 14:16:07</text>
<text transform="translate(316.38 363.7) rotate(-90) scale(1.13 1)">2024-08-06 15:36:07</text>
<text transform="translate(334.94 363.7) rotate(-90) scale(1.13 1)">2024-08-06 16:56:07</text>
<text transform="translate(353.50 363.7) rotate(-90) scale(1.13 1)">2024-08-06 18:16:07</text>
<text transform="translate(372.07 363.7) rotate(-90) scale(1.13 1)">2024-08-06 19:36:07</text>
<text transform="translate(390.63 363.7) rotate(-90) scale(1.13 1)">2024-08-06 20:56:07</text>
<text transform="translate(409.19 363.7) rotate(-90) scale(1.13 1)">2024-08-06 22:16:07</text>
<text transform="translate(427.75 363.7) rotate(-90) scale(1.13 1)">2024-08-06 23:36:07</text>
<text transform="translate(446.31 363.7) rotate(-90) scale(1.13 1)">2024-08-07 00:56:07</text>
<text transform="translate(464.88 363.7) rotate(-90) scale(1.13 1)">2024-08-07 02:16:07</text>
<text transform="translate(483.44 363.7) rotate(-90) scale(1.13 1)">2024-08-07 03:36:07</text>
<text transform="translate(502.00 363.7) rotate(-90) scale(1.13 1)">2024-08-07 04:56:07</text>
<text transform="translate(520.56 363.7) rotate(-90) scale(1.13 1)">2024-08-07 06:16:07</text>
<text transform="translate(539.12 363.7) rotate(-90) scale(1.13 1)">2024-08-07 07:36:07</text>
<text transform="translate(557.69 363.7) rotate(-90) scale(1.13 1)">2024-08-07 08:56:07</text>
<text transform="translate(576.25 363.7) rotate(-90) scale(1.13 1)">2024-08-07 10:16:07</text>
<text transform="translate(594.81 363.7) rotate(-90) scale(1.13 1)">2024-08-07 11:36:07</text>
<text transform="translate(613.37 363.7) rotate(-90) scale(1.13 1)">2024-08-07 12:56:07</text>
<text transform="translate(631.93 363.7) rotate(-90) scale(1.13 1)">2024-08-07 14:16:07</text>
<text transform="translate(650.50 363.7) rotate(-90) scale(1.13 1)">2024-08-07 15:36:07</text>
<text transform="translate(669.06 363.7) rotate(-90) scale(1.13 1)">2024-08-07 16:56:07</text>
<text transform="translate(687.62 363.7) rotate(-90) scale(1.13 1)">2024-08-07 18:16:07</text>
<text transform="translate(706.18 363.7) rotate(-90) scale(1.13 1)">2024-08-07 19:36:07</text>
<text transform="translate(724.74 363.7) rotate(-90) scale(1.13 1)">2024-08-07 20:56:07</text>
<text transform="translate(743.31 363.7) rotate(-90) scale(1.13 1)">2024-08-07 22:16:07</text>
<text transform="translate(761.87 363.7) rotate(-90) scale(1.13 1)">2024-08-07 23:36:07</text>
<text transform="translate(780.43 363.7) rotate(-90) scale(1.13 1)">2024-08-08 00:56:07</text>
<text transform="translate(798.99 363.7) rotate(-90) scale(1.13 1)">2024-08-08 02:16:07</text>
<text transform="translate(817.55 363.7) rotate(-90) scale(1.13 1)">2024-08-08 03:36:07</text>
<text transform="translate(836.12 363.7) rotate(-90) scale(1.13 1)">2024-08-08 04:56:07</text>
<text transform="translate(854.68 363.7) rotate(-90) scale(1.13 1)">2024-08-08 06:16:07</text>
<text transform="translate(873.24 363.7) rotate(-90) scale(1.13 1)">2024-08-08 07:36:07</text>
<text transform="translate(891.80 363.7) rotate(-90) scale(1.13 1)">2024-08-08 08:56:07</text>
</g>
<g fill="none" stroke-width="4.4" stroke-linecap="round">
<line x1="270.0" x2="302.0" y1="519.7" y2="519.7" stroke="#4472C4"/>
<line x1="373.1" x2="405.1" y1="519.7" y2="519.7" stroke="#ED7D31"/>
<line x1="476.4" x2="508.4" y1="519.7" y2="519.7" stroke="#F2B90C"/>
<line x1="579.5" x2="611.5" y1="519.7" y2="519.7" stroke="#70B844"/>
</g>
<g fill="#666666">
<text class="lg" x="308.2" y="524.8">底部温度</text>
<text class="lg" x="411.9" y="524.8">中心温度</text>
<text class="lg" x="514.7" y="524.8">顶部温度</text>
<text class="lg" x="617.6" y="524.8">环境</text>
</g>
</svg></body></html>
